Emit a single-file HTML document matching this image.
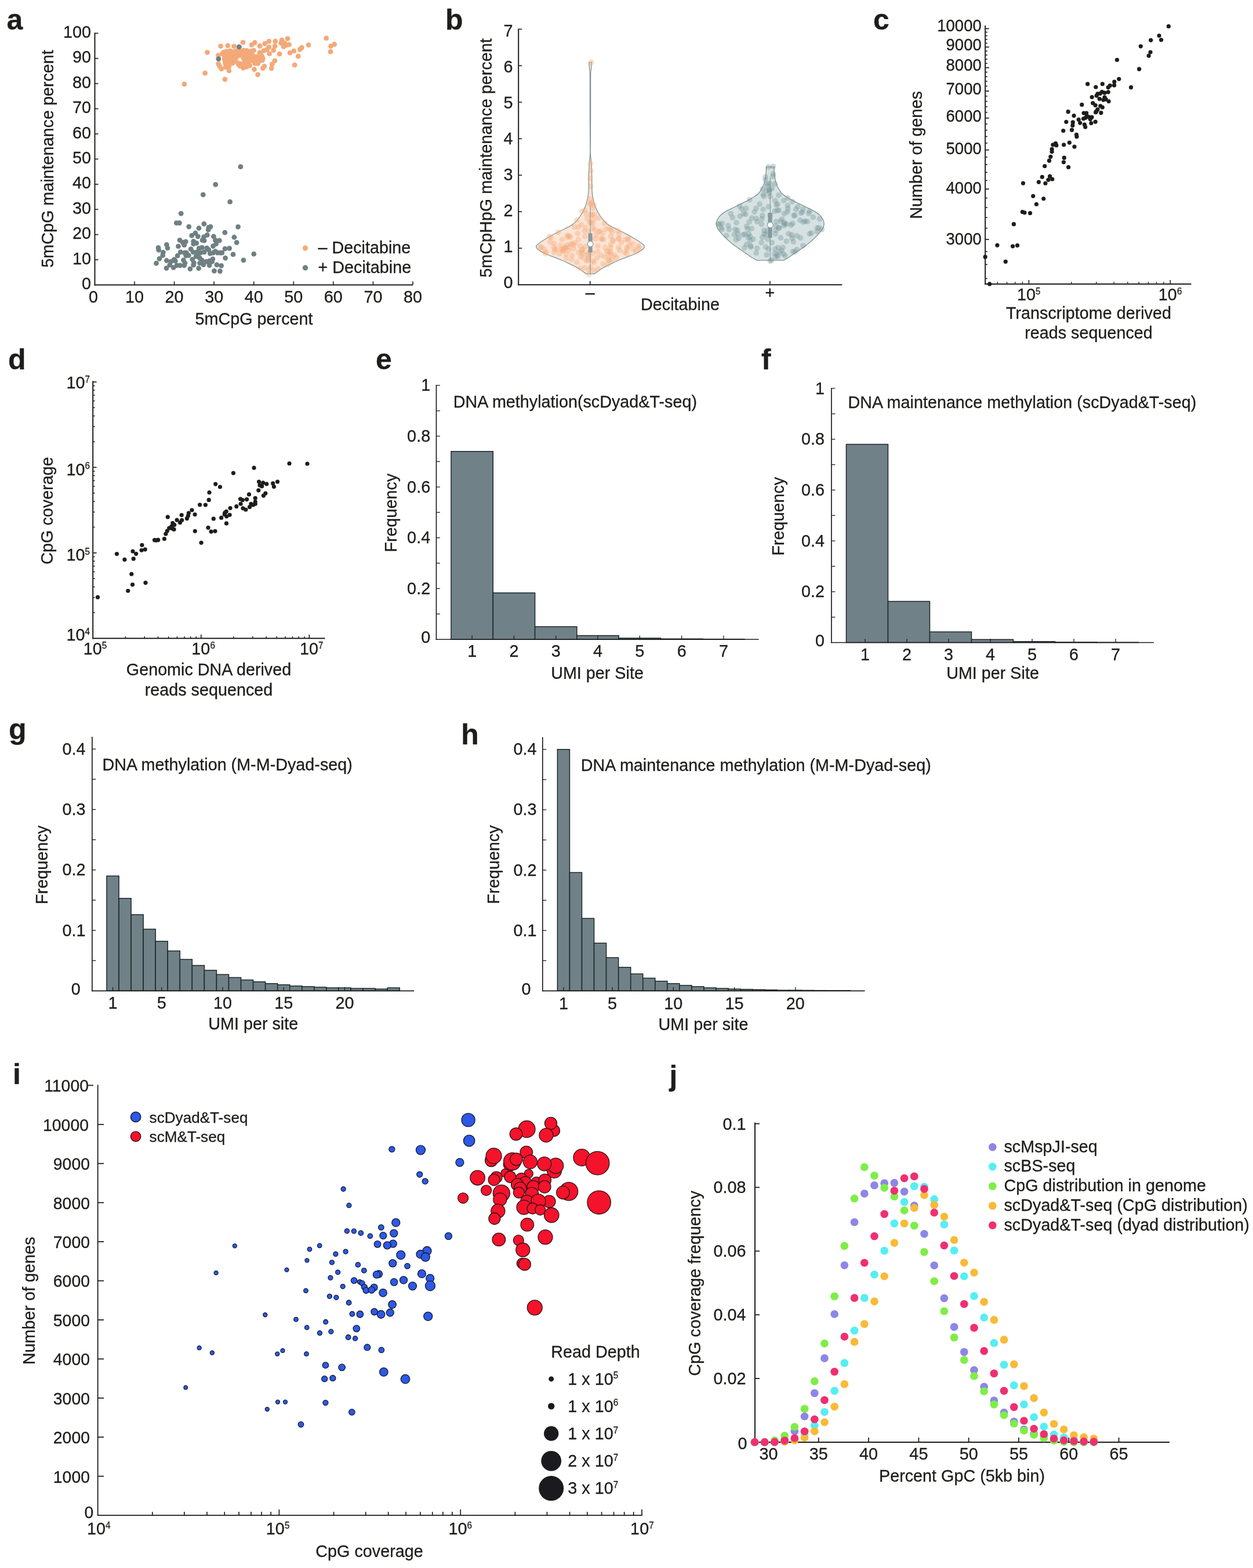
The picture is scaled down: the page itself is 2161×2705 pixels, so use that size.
<!DOCTYPE html>
<html lang="en">
<head>
<meta charset="utf-8">
<title>Figure: scDyad&amp;T-seq quality metrics</title>
<style>
html,body{margin:0;padding:0;background:#fff;}
body{width:2161px;height:2705px;overflow:hidden;}
svg{display:block;font-family:'Liberation Sans', sans-serif;fill:#1d1d1b;}
svg text{white-space:pre;stroke:#1d1d1b;stroke-width:0.3px;stroke-linejoin:round;}
</style>
</head>
<body>
<svg width="2161" height="2705" viewBox="0 0 2161 2705">
<rect x="0" y="0" width="2161" height="2705" fill="#ffffff"/>
<g id="panel-a">
<text font-size="50" transform="translate(11.5 51.3)" font-weight="bold">a</text>
<line x1="163.5" y1="56.4" x2="163.5" y2="492.5" stroke="#1d1d1b" stroke-width="2" stroke-linecap="butt"/>
<line x1="162.5" y1="491.5" x2="712" y2="491.5" stroke="#1d1d1b" stroke-width="2" stroke-linecap="butt"/>
<text font-size="30.2" text-anchor="end" transform="translate(157 499.1) scale(0.955 1)">0</text>
<line x1="163.5" y1="448.09" x2="169.5" y2="448.09" stroke="#1d1d1b" stroke-width="1.6" stroke-linecap="butt"/>
<text font-size="30.2" text-anchor="end" transform="translate(157 455.69) scale(0.955 1)">10</text>
<line x1="163.5" y1="404.68" x2="169.5" y2="404.68" stroke="#1d1d1b" stroke-width="1.6" stroke-linecap="butt"/>
<text font-size="30.2" text-anchor="end" transform="translate(157 412.28) scale(0.955 1)">20</text>
<line x1="163.5" y1="361.27" x2="169.5" y2="361.27" stroke="#1d1d1b" stroke-width="1.6" stroke-linecap="butt"/>
<text font-size="30.2" text-anchor="end" transform="translate(157 368.87) scale(0.955 1)">30</text>
<line x1="163.5" y1="317.86" x2="169.5" y2="317.86" stroke="#1d1d1b" stroke-width="1.6" stroke-linecap="butt"/>
<text font-size="30.2" text-anchor="end" transform="translate(157 325.46) scale(0.955 1)">40</text>
<line x1="163.5" y1="274.45" x2="169.5" y2="274.45" stroke="#1d1d1b" stroke-width="1.6" stroke-linecap="butt"/>
<text font-size="30.2" text-anchor="end" transform="translate(157 282.05) scale(0.955 1)">50</text>
<line x1="163.5" y1="231.04" x2="169.5" y2="231.04" stroke="#1d1d1b" stroke-width="1.6" stroke-linecap="butt"/>
<text font-size="30.2" text-anchor="end" transform="translate(157 238.64) scale(0.955 1)">60</text>
<line x1="163.5" y1="187.63" x2="169.5" y2="187.63" stroke="#1d1d1b" stroke-width="1.6" stroke-linecap="butt"/>
<text font-size="30.2" text-anchor="end" transform="translate(157 195.23) scale(0.955 1)">70</text>
<line x1="163.5" y1="144.22" x2="169.5" y2="144.22" stroke="#1d1d1b" stroke-width="1.6" stroke-linecap="butt"/>
<text font-size="30.2" text-anchor="end" transform="translate(157 151.82) scale(0.955 1)">80</text>
<line x1="163.5" y1="100.81" x2="169.5" y2="100.81" stroke="#1d1d1b" stroke-width="1.6" stroke-linecap="butt"/>
<text font-size="30.2" text-anchor="end" transform="translate(157 108.41) scale(0.955 1)">90</text>
<line x1="163.5" y1="57.4" x2="169.5" y2="57.4" stroke="#1d1d1b" stroke-width="1.6" stroke-linecap="butt"/>
<text font-size="30.2" text-anchor="end" transform="translate(157 65) scale(0.955 1)">100</text>
<text font-size="30.2" text-anchor="middle" transform="translate(161.1 521.8) scale(0.955 1)">0</text>
<line x1="232.06" y1="491.5" x2="232.06" y2="485.5" stroke="#1d1d1b" stroke-width="1.6" stroke-linecap="butt"/>
<text font-size="30.2" text-anchor="middle" transform="translate(232.06 521.8) scale(0.955 1)">10</text>
<line x1="300.62" y1="491.5" x2="300.62" y2="485.5" stroke="#1d1d1b" stroke-width="1.6" stroke-linecap="butt"/>
<text font-size="30.2" text-anchor="middle" transform="translate(300.62 521.8) scale(0.955 1)">20</text>
<line x1="369.19" y1="491.5" x2="369.19" y2="485.5" stroke="#1d1d1b" stroke-width="1.6" stroke-linecap="butt"/>
<text font-size="30.2" text-anchor="middle" transform="translate(369.19 521.8) scale(0.955 1)">30</text>
<line x1="437.75" y1="491.5" x2="437.75" y2="485.5" stroke="#1d1d1b" stroke-width="1.6" stroke-linecap="butt"/>
<text font-size="30.2" text-anchor="middle" transform="translate(437.75 521.8) scale(0.955 1)">40</text>
<line x1="506.31" y1="491.5" x2="506.31" y2="485.5" stroke="#1d1d1b" stroke-width="1.6" stroke-linecap="butt"/>
<text font-size="30.2" text-anchor="middle" transform="translate(506.31 521.8) scale(0.955 1)">50</text>
<line x1="574.88" y1="491.5" x2="574.88" y2="485.5" stroke="#1d1d1b" stroke-width="1.6" stroke-linecap="butt"/>
<text font-size="30.2" text-anchor="middle" transform="translate(574.88 521.8) scale(0.955 1)">60</text>
<line x1="643.44" y1="491.5" x2="643.44" y2="485.5" stroke="#1d1d1b" stroke-width="1.6" stroke-linecap="butt"/>
<text font-size="30.2" text-anchor="middle" transform="translate(643.44 521.8) scale(0.955 1)">70</text>
<line x1="712" y1="491.5" x2="712" y2="485.5" stroke="#1d1d1b" stroke-width="1.6" stroke-linecap="butt"/>
<text font-size="30.2" text-anchor="middle" transform="translate(712 521.8) scale(0.955 1)">80</text>
<text font-size="29.2" text-anchor="middle" transform="translate(438 559.5) scale(0.985 1)">5mCpG percent</text>
<text font-size="29.2" text-anchor="middle" transform="translate(92 274) rotate(-90) scale(0.985 1)">5mCpG maintenance percent</text>
<g fill="#f4a978">
<circle cx="317.94" cy="145.12" r="4.4"/>
<circle cx="353.66" cy="126.13" r="4.4"/>
<circle cx="387.98" cy="136.93" r="4.4"/>
<circle cx="357.49" cy="90.42" r="4.4"/>
<circle cx="394.95" cy="121.95" r="4.4"/>
<circle cx="444.6" cy="128.75" r="4.4"/>
<circle cx="508.19" cy="112.2" r="4.4"/>
<circle cx="514.29" cy="97.04" r="4.4"/>
<circle cx="482.06" cy="93.03" r="4.4"/>
<circle cx="500" cy="91.11" r="4.4"/>
<circle cx="506.79" cy="87.8" r="4.4"/>
<circle cx="517.25" cy="85.37" r="4.4"/>
<circle cx="520.38" cy="82.23" r="4.4"/>
<circle cx="532.06" cy="77.7" r="4.4"/>
<circle cx="562.72" cy="65.85" r="4.4"/>
<circle cx="576.66" cy="76.48" r="4.4"/>
<circle cx="570.56" cy="79.62" r="4.4"/>
<circle cx="570.03" cy="89.2" r="4.4"/>
<circle cx="495.99" cy="66.55" r="4.4"/>
<circle cx="486.06" cy="69.16" r="4.4"/>
<circle cx="474.74" cy="71.25" r="4.4"/>
<circle cx="463.76" cy="71.25" r="4.4"/>
<circle cx="456.79" cy="75.26" r="4.4"/>
<circle cx="439.37" cy="73.52" r="4.4"/>
<circle cx="434.15" cy="77.35" r="4.4"/>
<circle cx="418.99" cy="73.17" r="4.4"/>
<circle cx="403.66" cy="79.97" r="4.4"/>
<circle cx="392.86" cy="78.75" r="4.4"/>
<circle cx="380.66" cy="79.62" r="4.4"/>
<circle cx="448.08" cy="79.27" r="4.4"/>
<circle cx="447.74" cy="90.94" r="4.4"/>
<circle cx="498.61" cy="77" r="4.4"/>
<circle cx="493.38" cy="77.87" r="4.4"/>
<circle cx="489.02" cy="80.49" r="4.4"/>
<circle cx="484.67" cy="74.39" r="4.4"/>
<circle cx="490.77" cy="74.39" r="4.4"/>
<circle cx="474.22" cy="79.62" r="4.4"/>
<circle cx="471.6" cy="86.59" r="4.4"/>
<circle cx="463.76" cy="81.36" r="4.4"/>
<circle cx="460.28" cy="85.71" r="4.4"/>
<circle cx="464.63" cy="92.68" r="4.4"/>
<circle cx="455.05" cy="87.46" r="4.4"/>
<circle cx="473.87" cy="104.88" r="4.4"/>
<circle cx="469.34" cy="110.98" r="4.4"/>
<circle cx="468.12" cy="117.94" r="4.4"/>
<circle cx="455.92" cy="114.46" r="4.4"/>
<circle cx="453.31" cy="117.6" r="4.4"/>
<circle cx="438.5" cy="119.69" r="4.4"/>
<circle cx="429.79" cy="111.85" r="4.4"/>
<circle cx="425.44" cy="115.33" r="4.4"/>
<circle cx="419.34" cy="117.07" r="4.4"/>
<circle cx="411.5" cy="110.98" r="4.4"/>
<circle cx="394.95" cy="114.46" r="4.4"/>
<circle cx="388.85" cy="115.85" r="4.4"/>
<circle cx="381.88" cy="118.82" r="4.4"/>
<circle cx="378.4" cy="113.59" r="4.4"/>
<circle cx="376.66" cy="110.1" r="4.4"/>
<circle cx="376.66" cy="95.64" r="4.4"/>
<circle cx="385.37" cy="90.42" r="4.4"/>
<circle cx="390.59" cy="88.68" r="4.4"/>
<circle cx="396.69" cy="87.98" r="4.4"/>
<circle cx="402.79" cy="89.2" r="4.4"/>
<circle cx="408.89" cy="87.46" r="4.4"/>
<circle cx="414.11" cy="87.98" r="4.4"/>
<circle cx="420.21" cy="86.93" r="4.4"/>
<circle cx="425.44" cy="87.46" r="4.4"/>
<circle cx="432.4" cy="88.33" r="4.4"/>
<circle cx="437.63" cy="86.93" r="4.4"/>
<circle cx="383.62" cy="92.68" r="4.4"/>
<circle cx="388.85" cy="93.55" r="4.4"/>
<circle cx="394.08" cy="91.81" r="4.4"/>
<circle cx="399.3" cy="92.68" r="4.4"/>
<circle cx="404.53" cy="91.81" r="4.4"/>
<circle cx="410.63" cy="92.68" r="4.4"/>
<circle cx="415.85" cy="91.81" r="4.4"/>
<circle cx="421.95" cy="91.46" r="4.4"/>
<circle cx="428.05" cy="91.81" r="4.4"/>
<circle cx="434.15" cy="91.81" r="4.4"/>
<circle cx="448.95" cy="91.81" r="4.4"/>
<circle cx="387.11" cy="97.04" r="4.4"/>
<circle cx="392.33" cy="96.17" r="4.4"/>
<circle cx="397.56" cy="96.69" r="4.4"/>
<circle cx="402.79" cy="96.17" r="4.4"/>
<circle cx="408.01" cy="97.04" r="4.4"/>
<circle cx="413.24" cy="95.64" r="4.4"/>
<circle cx="418.47" cy="96.17" r="4.4"/>
<circle cx="423.69" cy="95.64" r="4.4"/>
<circle cx="429.79" cy="96.69" r="4.4"/>
<circle cx="437.63" cy="97.04" r="4.4"/>
<circle cx="442.86" cy="97.91" r="4.4"/>
<circle cx="451.57" cy="96.69" r="4.4"/>
<circle cx="387.11" cy="101.39" r="4.4"/>
<circle cx="391.46" cy="100.52" r="4.4"/>
<circle cx="396.69" cy="100.87" r="4.4"/>
<circle cx="401.92" cy="100.52" r="4.4"/>
<circle cx="407.14" cy="99.65" r="4.4"/>
<circle cx="420.21" cy="100.52" r="4.4"/>
<circle cx="425.44" cy="100.17" r="4.4"/>
<circle cx="432.4" cy="99.65" r="4.4"/>
<circle cx="439.37" cy="100.52" r="4.4"/>
<circle cx="446.34" cy="101.39" r="4.4"/>
<circle cx="453.31" cy="100.52" r="4.4"/>
<circle cx="387.98" cy="105.4" r="4.4"/>
<circle cx="393.21" cy="104.88" r="4.4"/>
<circle cx="398.43" cy="105.4" r="4.4"/>
<circle cx="404.53" cy="104.36" r="4.4"/>
<circle cx="421.95" cy="104.88" r="4.4"/>
<circle cx="427.18" cy="104.36" r="4.4"/>
<circle cx="435.02" cy="104.01" r="4.4"/>
<circle cx="441.11" cy="105.4" r="4.4"/>
<circle cx="448.08" cy="104.88" r="4.4"/>
<circle cx="452.44" cy="104.01" r="4.4"/>
<circle cx="388.85" cy="109.58" r="4.4"/>
<circle cx="394.95" cy="109.23" r="4.4"/>
<circle cx="401.05" cy="108.89" r="4.4"/>
<circle cx="409.76" cy="108.36" r="4.4"/>
<circle cx="414.98" cy="110.1" r="4.4"/>
<circle cx="421.95" cy="109.23" r="4.4"/>
<circle cx="428.92" cy="108.36" r="4.4"/>
<circle cx="439.37" cy="109.23" r="4.4"/>
<circle cx="444.6" cy="109.58" r="4.4"/>
<circle cx="390.59" cy="113.59" r="4.4"/>
<circle cx="395.82" cy="110.98" r="4.4"/>
<circle cx="413.24" cy="113.59" r="4.4"/>
<circle cx="420.21" cy="113.07" r="4.4"/>
<circle cx="425.44" cy="110.98" r="4.4"/>
<circle cx="430.66" cy="113.07" r="4.4"/>
<circle cx="526.5" cy="428" r="4.7"/>
</g>
<g fill="#6f8083">
<circle cx="412.37" cy="80.84" r="4.4"/>
<circle cx="376.83" cy="101.57" r="4.4"/>
<circle cx="414.94" cy="287.63" r="4.4"/>
<circle cx="371.75" cy="318.29" r="4.4"/>
<circle cx="350.29" cy="335.8" r="4.4"/>
<circle cx="396.67" cy="348.19" r="4.4"/>
<circle cx="312.22" cy="368.37" r="4.4"/>
<circle cx="304.3" cy="384.73" r="4.4"/>
<circle cx="309.41" cy="384.73" r="4.4"/>
<circle cx="325.76" cy="391.11" r="4.4"/>
<circle cx="343.01" cy="393.67" r="4.4"/>
<circle cx="351.82" cy="386.26" r="4.4"/>
<circle cx="359.87" cy="392.39" r="4.4"/>
<circle cx="363.07" cy="391.11" r="4.4"/>
<circle cx="359.23" cy="396.48" r="4.4"/>
<circle cx="410.59" cy="391.37" r="4.4"/>
<circle cx="387.85" cy="401.21" r="4.4"/>
<circle cx="403.95" cy="409.26" r="4.4"/>
<circle cx="408.16" cy="418.46" r="4.4"/>
<circle cx="437.8" cy="438.13" r="4.4"/>
<circle cx="419.92" cy="448.86" r="4.4"/>
<circle cx="402.03" cy="438.9" r="4.4"/>
<circle cx="388.62" cy="445.03" r="4.4"/>
<circle cx="395.64" cy="428.42" r="4.4"/>
<circle cx="387.98" cy="429.06" r="4.4"/>
<circle cx="382.87" cy="436.09" r="4.4"/>
<circle cx="378.4" cy="415.01" r="4.4"/>
<circle cx="368.43" cy="407.98" r="4.4"/>
<circle cx="371.37" cy="414.37" r="4.4"/>
<circle cx="372.65" cy="420.75" r="4.4"/>
<circle cx="367.54" cy="424.59" r="4.4"/>
<circle cx="357.32" cy="405.42" r="4.4"/>
<circle cx="351.57" cy="408.62" r="4.4"/>
<circle cx="349.01" cy="414.37" r="4.4"/>
<circle cx="352.21" cy="415.01" r="4.4"/>
<circle cx="341.35" cy="407.98" r="4.4"/>
<circle cx="336.88" cy="402.23" r="4.4"/>
<circle cx="330.74" cy="406.32" r="4.4"/>
<circle cx="333.68" cy="416.28" r="4.4"/>
<circle cx="333.68" cy="420.75" r="4.4"/>
<circle cx="338.79" cy="419.48" r="4.4"/>
<circle cx="320.27" cy="416.92" r="4.4"/>
<circle cx="315.16" cy="418.2" r="4.4"/>
<circle cx="310.05" cy="414.37" r="4.4"/>
<circle cx="317.71" cy="422.67" r="4.4"/>
<circle cx="307.49" cy="424.84" r="4.4"/>
<circle cx="287.43" cy="422.03" r="4.4"/>
<circle cx="288.97" cy="427.78" r="4.4"/>
<circle cx="273" cy="427.4" r="4.4"/>
<circle cx="273.64" cy="431.23" r="4.4"/>
<circle cx="281.3" cy="435.45" r="4.4"/>
<circle cx="280.66" cy="440.56" r="4.4"/>
<circle cx="274.91" cy="446.31" r="4.4"/>
<circle cx="269.55" cy="454.23" r="4.4"/>
<circle cx="287.43" cy="449.5" r="4.4"/>
<circle cx="287.05" cy="462.66" r="4.4"/>
<circle cx="299.19" cy="461.64" r="4.4"/>
<circle cx="292.8" cy="457.17" r="4.4"/>
<circle cx="294.72" cy="451.42" r="4.4"/>
<circle cx="300.46" cy="447.58" r="4.4"/>
<circle cx="302.38" cy="450.14" r="4.4"/>
<circle cx="306.21" cy="441.2" r="4.4"/>
<circle cx="311.32" cy="434.81" r="4.4"/>
<circle cx="318.35" cy="436.09" r="4.4"/>
<circle cx="320.91" cy="441.2" r="4.4"/>
<circle cx="325.38" cy="440.56" r="4.4"/>
<circle cx="316.43" cy="448.86" r="4.4"/>
<circle cx="318.99" cy="453.97" r="4.4"/>
<circle cx="317.71" cy="457.8" r="4.4"/>
<circle cx="310.69" cy="457.8" r="4.4"/>
<circle cx="304.94" cy="457.8" r="4.4"/>
<circle cx="327.93" cy="463.94" r="4.4"/>
<circle cx="342.62" cy="462.92" r="4.4"/>
<circle cx="369.45" cy="467.39" r="4.4"/>
<circle cx="379.42" cy="467.77" r="4.4"/>
<circle cx="381.59" cy="458.44" r="4.4"/>
<circle cx="373.93" cy="456.78" r="4.4"/>
<circle cx="361.15" cy="457.55" r="4.4"/>
<circle cx="350.93" cy="456.53" r="4.4"/>
<circle cx="344.54" cy="453.97" r="4.4"/>
<circle cx="334.32" cy="453.33" r="4.4"/>
<circle cx="333.68" cy="457.17" r="4.4"/>
<circle cx="331.77" cy="447.58" r="4.4"/>
<circle cx="329.21" cy="429.7" r="4.4"/>
<circle cx="333.04" cy="434.81" r="4.4"/>
<circle cx="343.26" cy="428.42" r="4.4"/>
<circle cx="348.37" cy="427.14" r="4.4"/>
<circle cx="356.68" cy="427.78" r="4.4"/>
<circle cx="359.87" cy="430.98" r="4.4"/>
<circle cx="352.21" cy="434.81" r="4.4"/>
<circle cx="345.82" cy="436.09" r="4.4"/>
<circle cx="340.71" cy="439.92" r="4.4"/>
<circle cx="338.15" cy="442.47" r="4.4"/>
<circle cx="344.54" cy="445.03" r="4.4"/>
<circle cx="348.37" cy="448.86" r="4.4"/>
<circle cx="356.04" cy="451.42" r="4.4"/>
<circle cx="361.15" cy="450.14" r="4.4"/>
<circle cx="365.62" cy="451.42" r="4.4"/>
<circle cx="366.9" cy="446.95" r="4.4"/>
<circle cx="362.43" cy="437.36" r="4.4"/>
<circle cx="367.54" cy="436.09" r="4.4"/>
<circle cx="371.37" cy="433.53" r="4.4"/>
<circle cx="375.2" cy="436.09" r="4.4"/>
<circle cx="380.31" cy="436.09" r="4.4"/>
<circle cx="339.43" cy="434.81" r="4.4"/>
<circle cx="321.54" cy="436.09" r="4.4"/>
<circle cx="526.5" cy="462" r="4.7"/>
</g>
<text font-size="29.2" transform="translate(548.5 436.6) scale(0.985 1)">– Decitabine</text>
<text font-size="29.2" transform="translate(548.5 470.6) scale(0.985 1)">+ Decitabine</text>
</g>
<g id="panel-b">
<text font-size="50" transform="translate(768 51)" font-weight="bold">b</text>
<line x1="894.2" y1="49.4" x2="894.2" y2="492.2" stroke="#1d1d1b" stroke-width="2" stroke-linecap="butt"/>
<line x1="893.2" y1="491.2" x2="1452.3" y2="491.2" stroke="#1d1d1b" stroke-width="2" stroke-linecap="butt"/>
<text font-size="30.2" text-anchor="end" transform="translate(884.6 497) scale(0.955 1)">0</text>
<line x1="894.2" y1="428.23" x2="900.2" y2="428.23" stroke="#1d1d1b" stroke-width="1.6" stroke-linecap="butt"/>
<text font-size="30.2" text-anchor="end" transform="translate(884.6 435.05) scale(0.955 1)">1</text>
<line x1="894.2" y1="365.26" x2="900.2" y2="365.26" stroke="#1d1d1b" stroke-width="1.6" stroke-linecap="butt"/>
<text font-size="30.2" text-anchor="end" transform="translate(884.6 373.1) scale(0.955 1)">2</text>
<line x1="894.2" y1="302.29" x2="900.2" y2="302.29" stroke="#1d1d1b" stroke-width="1.6" stroke-linecap="butt"/>
<text font-size="30.2" text-anchor="end" transform="translate(884.6 311.15) scale(0.955 1)">3</text>
<line x1="894.2" y1="239.31" x2="900.2" y2="239.31" stroke="#1d1d1b" stroke-width="1.6" stroke-linecap="butt"/>
<text font-size="30.2" text-anchor="end" transform="translate(884.6 249.2) scale(0.955 1)">4</text>
<line x1="894.2" y1="176.34" x2="900.2" y2="176.34" stroke="#1d1d1b" stroke-width="1.6" stroke-linecap="butt"/>
<text font-size="30.2" text-anchor="end" transform="translate(884.6 187.25) scale(0.955 1)">5</text>
<line x1="894.2" y1="113.37" x2="900.2" y2="113.37" stroke="#1d1d1b" stroke-width="1.6" stroke-linecap="butt"/>
<text font-size="30.2" text-anchor="end" transform="translate(884.6 125.3) scale(0.955 1)">6</text>
<line x1="894.2" y1="50.4" x2="900.2" y2="50.4" stroke="#1d1d1b" stroke-width="1.6" stroke-linecap="butt"/>
<text font-size="30.2" text-anchor="end" transform="translate(884.6 63.35) scale(0.955 1)">7</text>
<line x1="1017.7" y1="491.2" x2="1017.7" y2="484.7" stroke="#1d1d1b" stroke-width="1.6" stroke-linecap="butt"/>
<text font-size="30.2" text-anchor="middle" transform="translate(1017.7 514.5) scale(0.955 1)">–</text>
<line x1="1327.9" y1="491.2" x2="1327.9" y2="484.7" stroke="#1d1d1b" stroke-width="1.6" stroke-linecap="butt"/>
<text font-size="30.2" text-anchor="middle" transform="translate(1327.9 514.5) scale(0.955 1)">+</text>
<path d="M1020.1 107.4C1020.08 108.33 1020.18 110.23 1020 113C1019.82 115.77 1019.23 120.33 1019 124C1018.77 127.67 1018.67 122.33 1018.6 135C1018.53 147.67 1018.67 179.17 1018.6 200C1018.53 220.83 1018.09 247.68 1018.19 260C1018.28 272.32 1018.84 269.29 1019.16 273.94C1019.49 278.58 1019.88 283.23 1020.14 287.87C1020.39 292.52 1020.58 297.17 1020.7 301.81C1020.81 306.46 1020.79 311.57 1020.84 315.75C1020.88 319.93 1020.79 323.18 1020.98 326.9C1021.16 330.62 1021.32 334.1 1021.95 338.05C1022.58 342 1023.58 346.64 1024.74 350.59C1025.9 354.54 1027.29 358.26 1028.92 361.74C1030.55 365.23 1032.52 368.48 1034.49 371.5C1036.47 374.52 1038.56 377.31 1040.77 379.86C1042.97 382.42 1044.95 384.74 1047.74 386.83C1050.52 388.92 1054.24 390.66 1057.49 392.4C1060.74 394.15 1063.53 395.42 1067.25 397.28C1070.96 399.14 1075.61 401.35 1079.79 403.55C1083.97 405.76 1088.39 408.2 1092.33 410.52C1096.28 412.85 1100.58 415.52 1103.48 417.49C1106.39 419.47 1108.41 421.07 1109.76 422.37C1111.1 423.67 1111.68 424.11 1111.57 425.3C1111.45 426.48 1110.64 427.97 1109.06 429.48C1107.48 430.99 1104.88 432.73 1102.09 434.36C1099.3 435.98 1095.82 437.72 1092.33 439.23C1088.85 440.74 1085.37 441.79 1081.18 443.41C1077 445.04 1071.66 447.13 1067.25 448.99C1062.83 450.85 1058.65 452.71 1054.7 454.56C1050.75 456.42 1046.81 458.4 1043.55 460.14C1040.3 461.88 1037.51 463.51 1035.19 465.02C1032.87 466.53 1031.13 468.04 1029.62 469.2C1028.11 470.36 1026.83 471.45 1026.13 471.99C1025.44 472.52 1025.55 472.33 1025.44 472.4L1010.66 472.4C1010.55 472.33 1010.66 472.52 1009.97 471.99C1009.27 471.45 1007.99 470.36 1006.48 469.2C1004.97 468.04 1003.23 466.53 1000.91 465.02C998.58 463.51 995.8 461.88 992.54 460.14C989.29 458.4 985.34 456.42 981.39 454.56C977.44 452.71 973.26 450.85 968.85 448.99C964.44 447.13 959.09 445.04 954.91 443.41C950.73 441.79 947.25 440.74 943.76 439.23C940.28 437.72 936.79 435.98 934.01 434.36C931.22 432.73 928.62 430.99 927.04 429.48C925.46 427.97 924.65 426.48 924.53 425.3C924.41 424.11 924.99 423.67 926.34 422.37C927.69 421.07 929.71 419.47 932.61 417.49C935.52 415.52 939.81 412.85 943.76 410.52C947.71 408.2 952.13 405.76 956.31 403.55C960.49 401.35 965.13 399.14 968.85 397.28C972.57 395.42 975.35 394.15 978.61 392.4C981.86 390.66 985.57 388.92 988.36 386.83C991.15 384.74 993.12 382.42 995.33 379.86C997.54 377.31 999.63 374.52 1001.6 371.5C1003.58 368.48 1005.55 365.23 1007.18 361.74C1008.8 358.26 1010.2 354.54 1011.36 350.59C1012.52 346.64 1013.52 342 1014.15 338.05C1014.77 334.1 1014.94 330.62 1015.12 326.9C1015.31 323.18 1015.21 319.93 1015.26 315.75C1015.31 311.57 1015.28 306.46 1015.4 301.81C1015.52 297.17 1015.7 292.52 1015.96 287.87C1016.21 283.23 1016.61 278.58 1016.93 273.94C1017.26 269.29 1017.82 272.32 1017.91 260C1018 247.68 1017.57 220.83 1017.5 200C1017.43 179.17 1017.56 147.67 1017.5 135C1017.43 122.33 1017.33 127.67 1017.1 124C1016.86 120.33 1016.28 115.77 1016.1 113C1015.91 110.23 1016.01 108.33 1016 107.4Z" fill="#f4a978" fill-opacity="0.3" stroke="#7f9194" stroke-width="1.3" stroke-linejoin="round"/>
<g fill="#f4a978" fill-opacity="0.36">
<circle cx="1018.47" cy="282.3" r="4.9"/>
<circle cx="1019.16" cy="294.15" r="4.9"/>
<circle cx="1017.77" cy="307.39" r="4.9"/>
<circle cx="1019.16" cy="321.32" r="4.9"/>
<circle cx="1017.77" cy="343.62" r="4.9"/>
<circle cx="1018.47" cy="351.99" r="4.9"/>
<circle cx="1022.65" cy="358.95" r="4.9"/>
<circle cx="1003.14" cy="364.53" r="4.9"/>
<circle cx="1011.5" cy="368.71" r="4.9"/>
<circle cx="1021.25" cy="370.1" r="4.9"/>
<circle cx="1012.89" cy="377.07" r="4.9"/>
<circle cx="1024.04" cy="378.47" r="4.9"/>
<circle cx="994.77" cy="379.86" r="4.9"/>
<circle cx="1032.4" cy="375.68" r="4.9"/>
<circle cx="1022.65" cy="385.44" r="4.9"/>
<circle cx="1010.1" cy="392.4" r="4.9"/>
<circle cx="1025.44" cy="396.59" r="4.9"/>
<circle cx="996.17" cy="402.86" r="4.9"/>
<circle cx="1008.71" cy="407.74" r="4.9"/>
<circle cx="1032.4" cy="399.37" r="4.9"/>
<circle cx="1039.37" cy="402.16" r="4.9"/>
<circle cx="1053.31" cy="396.59" r="4.9"/>
<circle cx="1065.85" cy="397.98" r="4.9"/>
<circle cx="1053.31" cy="407.74" r="4.9"/>
<circle cx="1040.77" cy="413.31" r="4.9"/>
<circle cx="1067.25" cy="411.92" r="4.9"/>
<circle cx="1078.4" cy="413.31" r="4.9"/>
<circle cx="1090.94" cy="420.28" r="4.9"/>
<circle cx="1100.7" cy="424.46" r="4.9"/>
<circle cx="1067.25" cy="426.97" r="4.9"/>
<circle cx="1068.64" cy="432.13" r="4.9"/>
<circle cx="1053.31" cy="421.67" r="4.9"/>
<circle cx="1043.55" cy="426.97" r="4.9"/>
<circle cx="1031.01" cy="424.46" r="4.9"/>
<circle cx="1036.59" cy="440.63" r="4.9"/>
<circle cx="1049.13" cy="439.51" r="4.9"/>
<circle cx="1060.28" cy="440.63" r="4.9"/>
<circle cx="1063.07" cy="444.81" r="4.9"/>
<circle cx="1077" cy="435.33" r="4.9"/>
<circle cx="1022.65" cy="436.45" r="4.9"/>
<circle cx="1022.65" cy="450.1" r="4.9"/>
<circle cx="1011.5" cy="450.1" r="4.9"/>
<circle cx="994.77" cy="452.2" r="4.9"/>
<circle cx="986.41" cy="440.63" r="4.9"/>
<circle cx="997.56" cy="435.33" r="4.9"/>
<circle cx="1000.35" cy="424.46" r="4.9"/>
<circle cx="983.62" cy="421.67" r="4.9"/>
<circle cx="986.41" cy="420.28" r="4.9"/>
<circle cx="978.05" cy="406.34" r="4.9"/>
<circle cx="962.72" cy="400.77" r="4.9"/>
<circle cx="947.39" cy="407.74" r="4.9"/>
<circle cx="948.78" cy="417.49" r="4.9"/>
<circle cx="955.75" cy="420.28" r="4.9"/>
<circle cx="966.9" cy="423.07" r="4.9"/>
<circle cx="959.93" cy="430.03" r="4.9"/>
<circle cx="939.02" cy="430.03" r="4.9"/>
<circle cx="932.06" cy="426.97" r="4.9"/>
<circle cx="940.42" cy="437.42" r="4.9"/>
<circle cx="955.75" cy="435.33" r="4.9"/>
<circle cx="969.69" cy="433.24" r="4.9"/>
<circle cx="980.84" cy="432.13" r="4.9"/>
<circle cx="991.99" cy="418.89" r="4.9"/>
<circle cx="997.56" cy="413.31" r="4.9"/>
<circle cx="1004.53" cy="437.42" r="4.9"/>
<circle cx="1015.68" cy="473.24" r="4.9"/>
<circle cx="1050.52" cy="448.99" r="4.9"/>
<circle cx="1026.83" cy="411.92" r="4.9"/>
<circle cx="1005.92" cy="430.03" r="4.9"/>
<circle cx="975.26" cy="426.97" r="4.9"/>
<circle cx="1081.18" cy="426.97" r="4.9"/>
<circle cx="1092.33" cy="430.03" r="4.9"/>
<circle cx="1102.09" cy="427.94" r="4.9"/>
<circle cx="1031.01" cy="434.22" r="4.9"/>
<circle cx="989.2" cy="429.06" r="4.9"/>
<circle cx="969.69" cy="413.31" r="4.9"/>
<circle cx="1057.49" cy="416.1" r="4.9"/>
<circle cx="1046.34" cy="433.24" r="4.9"/>
<circle cx="1085.37" cy="423.07" r="4.9"/>
<circle cx="1015.68" cy="441.6" r="4.9"/>
<circle cx="1005.92" cy="444.81" r="4.9"/>
<circle cx="1029.62" cy="444.81" r="4.9"/>
<circle cx="979.44" cy="409.2" r="4.9"/>
<circle cx="1031.5" cy="463.74" r="4.9"/>
<circle cx="1028.32" cy="405.29" r="4.9"/>
<circle cx="979.95" cy="426.83" r="4.9"/>
<circle cx="1015.36" cy="465.17" r="4.9"/>
<circle cx="1017.48" cy="383.76" r="4.9"/>
<circle cx="1053.1" cy="426.95" r="4.9"/>
<circle cx="1020.6" cy="349.82" r="4.9"/>
<circle cx="1017.53" cy="351.46" r="4.9"/>
<circle cx="1002.67" cy="387.81" r="4.9"/>
<circle cx="1008.84" cy="425.47" r="4.9"/>
<circle cx="1081.95" cy="429.84" r="4.9"/>
<circle cx="957.05" cy="430.13" r="4.9"/>
<circle cx="1024.29" cy="354.22" r="4.9"/>
<circle cx="1007.88" cy="398.63" r="4.9"/>
<circle cx="954.79" cy="426.53" r="4.9"/>
<circle cx="950.3" cy="409.94" r="4.9"/>
<circle cx="997.46" cy="391.76" r="4.9"/>
<circle cx="1071.7" cy="418.61" r="4.9"/>
<circle cx="1014.83" cy="436.02" r="4.9"/>
<circle cx="1034.62" cy="399.27" r="4.9"/>
<circle cx="1053.79" cy="439.47" r="4.9"/>
<circle cx="1044.61" cy="395.44" r="4.9"/>
<circle cx="964.92" cy="437.67" r="4.9"/>
<circle cx="1054.99" cy="448.18" r="4.9"/>
<circle cx="983.65" cy="408.95" r="4.9"/>
<circle cx="1012.09" cy="439.56" r="4.9"/>
<circle cx="1081.1" cy="437.47" r="4.9"/>
<circle cx="1015.33" cy="399.1" r="4.9"/>
<circle cx="1022.96" cy="393.66" r="4.9"/>
<circle cx="975" cy="427.34" r="4.9"/>
<circle cx="1052.9" cy="434.82" r="4.9"/>
<circle cx="968.66" cy="429.64" r="4.9"/>
<circle cx="1019.74" cy="370.99" r="4.9"/>
<circle cx="1007.96" cy="462.07" r="4.9"/>
<circle cx="990.54" cy="391.74" r="4.9"/>
<circle cx="1043.13" cy="442.9" r="4.9"/>
<circle cx="1055.8" cy="400" r="4.9"/>
<circle cx="989.45" cy="422.32" r="4.9"/>
<circle cx="976.63" cy="445.64" r="4.9"/>
<circle cx="1018.05" cy="384.62" r="4.9"/>
<circle cx="1049.17" cy="448.55" r="4.9"/>
<circle cx="1019.04" cy="412.04" r="4.9"/>
<circle cx="1037.93" cy="411.19" r="4.9"/>
<circle cx="1024.45" cy="466.83" r="4.9"/>
<circle cx="1066.74" cy="412.16" r="4.9"/>
<circle cx="1050.14" cy="433.29" r="4.9"/>
<circle cx="1037.24" cy="412.48" r="4.9"/>
<circle cx="1097.02" cy="433.59" r="4.9"/>
<circle cx="1014.16" cy="449.14" r="4.9"/>
<circle cx="1024.56" cy="452.54" r="4.9"/>
<circle cx="1040.09" cy="455.15" r="4.9"/>
<circle cx="971.84" cy="431.11" r="4.9"/>
<circle cx="941.89" cy="435.07" r="4.9"/>
<circle cx="1056.96" cy="414.09" r="4.9"/>
<circle cx="1083.68" cy="413.68" r="4.9"/>
<circle cx="1082.9" cy="412.06" r="4.9"/>
<circle cx="1067.88" cy="403.77" r="4.9"/>
<circle cx="1025.09" cy="370.05" r="4.9"/>
<circle cx="1014.95" cy="445.68" r="4.9"/>
<circle cx="976.45" cy="438.08" r="4.9"/>
<circle cx="1003.08" cy="431.25" r="4.9"/>
<circle cx="1018.21" cy="460.61" r="4.9"/>
<circle cx="977.32" cy="422.35" r="4.9"/>
<circle cx="933.57" cy="426.01" r="4.9"/>
<circle cx="1051.06" cy="392.94" r="4.9"/>
<circle cx="1008.68" cy="362.39" r="4.9"/>
<circle cx="971.59" cy="429.98" r="4.9"/>
<circle cx="981.62" cy="406.71" r="4.9"/>
<circle cx="1042.45" cy="384.97" r="4.9"/>
<circle cx="1000.07" cy="462.96" r="4.9"/>
<circle cx="985.66" cy="447.44" r="4.9"/>
<circle cx="1048.18" cy="456.17" r="4.9"/>
<circle cx="1001.15" cy="443.02" r="4.9"/>
<circle cx="1003.66" cy="434.81" r="4.9"/>
</g>
<line x1="1018.05" y1="355.47" x2="1018.05" y2="472.4" stroke="#7d9497" stroke-width="1.1" stroke-linecap="butt"/>
<rect x="1014.56" y="402.44" width="6.97" height="33.17" fill="#86999c"/>
<circle cx="1018.05" cy="420.98" r="5" fill="#ffffff" stroke="#86999c" stroke-width="1.2"/>
<circle cx="1019.6" cy="107.8" r="5" fill="#f4a978" fill-opacity="0.4"/>
<path d="M1335.13 287.93C1335.18 289.57 1335.18 294.35 1335.44 297.75C1335.69 301.14 1335.94 304.79 1336.64 308.32C1337.35 311.84 1338.53 315.87 1339.66 318.89C1340.8 321.9 1341.93 323.92 1343.44 326.43C1344.95 328.95 1346.46 331.72 1348.72 333.98C1350.99 336.25 1353.88 338.01 1357.03 340.02C1360.17 342.04 1363.82 344.05 1367.6 346.06C1371.37 348.08 1375.65 350.09 1379.67 352.1C1383.7 354.12 1387.73 356.13 1391.75 358.14C1395.78 360.15 1400.31 362.17 1403.83 364.18C1407.36 366.19 1410.38 367.96 1412.89 370.22C1415.41 372.49 1417.55 375.25 1418.93 377.77C1420.32 380.29 1421.07 382.8 1421.2 385.32C1421.32 387.84 1420.82 390.35 1419.69 392.87C1418.55 395.39 1416.54 397.78 1414.4 400.42C1412.26 403.06 1409.87 405.7 1406.85 408.72C1403.83 411.74 1400.06 415.39 1396.28 418.54C1392.51 421.68 1388.23 424.7 1384.2 427.6C1380.18 430.49 1376.15 433.13 1372.13 435.9C1368.1 438.67 1363.44 442.02 1360.05 444.2C1356.65 446.39 1353.13 448.23 1351.74 449.04L1304.94 449.04C1303.55 448.23 1300.03 446.39 1296.63 444.2C1293.23 442.02 1288.58 438.67 1284.55 435.9C1280.53 433.13 1276.5 430.49 1272.47 427.6C1268.45 424.7 1264.17 421.68 1260.39 418.54C1256.62 415.39 1252.85 411.74 1249.83 408.72C1246.81 405.7 1244.42 403.06 1242.28 400.42C1240.14 397.78 1238.12 395.39 1236.99 392.87C1235.86 390.35 1235.36 387.84 1235.48 385.32C1235.61 382.8 1236.36 380.29 1237.75 377.77C1239.13 375.25 1241.27 372.49 1243.79 370.22C1246.3 367.96 1249.32 366.19 1252.85 364.18C1256.37 362.17 1260.9 360.15 1264.92 358.14C1268.95 356.13 1272.98 354.12 1277 352.1C1281.03 350.09 1285.31 348.08 1289.08 346.06C1292.86 344.05 1296.51 342.04 1299.65 340.02C1302.8 338.01 1305.69 336.25 1307.96 333.98C1310.22 331.72 1311.73 328.95 1313.24 326.43C1314.75 323.92 1315.88 321.9 1317.02 318.89C1318.15 315.87 1319.33 311.84 1320.03 308.32C1320.74 304.79 1320.99 301.14 1321.24 297.75C1321.49 294.35 1321.49 289.57 1321.54 287.93Z" fill="#8fb0b0" fill-opacity="0.37" stroke="#7f9194" stroke-width="1.3" stroke-linejoin="round"/>
<g fill="#6f8f93" fill-opacity="0.34">
<circle cx="1325.32" cy="287.93" r="4.9"/>
<circle cx="1333.62" cy="287.18" r="4.9"/>
<circle cx="1320.03" cy="305.3" r="4.9"/>
<circle cx="1323.81" cy="317.38" r="4.9"/>
<circle cx="1336.64" cy="317.38" r="4.9"/>
<circle cx="1331.36" cy="324.92" r="4.9"/>
<circle cx="1326.83" cy="328.7" r="4.9"/>
<circle cx="1316.26" cy="335.49" r="4.9"/>
<circle cx="1292.86" cy="344.55" r="4.9"/>
<circle cx="1310.22" cy="352.1" r="4.9"/>
<circle cx="1336.64" cy="346.06" r="4.9"/>
<circle cx="1351.74" cy="346.06" r="4.9"/>
<circle cx="1358.54" cy="341.53" r="4.9"/>
<circle cx="1358.54" cy="354.37" r="4.9"/>
<circle cx="1304.18" cy="359.65" r="4.9"/>
<circle cx="1279.27" cy="360.41" r="4.9"/>
<circle cx="1316.26" cy="361.16" r="4.9"/>
<circle cx="1325.32" cy="356.63" r="4.9"/>
<circle cx="1338.91" cy="353.61" r="4.9"/>
<circle cx="1343.44" cy="362.67" r="4.9"/>
<circle cx="1335.89" cy="364.18" r="4.9"/>
<circle cx="1375.9" cy="356.63" r="4.9"/>
<circle cx="1396.28" cy="364.18" r="4.9"/>
<circle cx="1369.11" cy="371.73" r="4.9"/>
<circle cx="1352.5" cy="368.71" r="4.9"/>
<circle cx="1260.39" cy="368.71" r="4.9"/>
<circle cx="1282.29" cy="368.71" r="4.9"/>
<circle cx="1286.06" cy="369.47" r="4.9"/>
<circle cx="1263.41" cy="375.51" r="4.9"/>
<circle cx="1296.63" cy="376.26" r="4.9"/>
<circle cx="1304.18" cy="377.02" r="4.9"/>
<circle cx="1314.75" cy="371.73" r="4.9"/>
<circle cx="1314" cy="377.77" r="4.9"/>
<circle cx="1305.69" cy="382.3" r="4.9"/>
<circle cx="1292.1" cy="383.05" r="4.9"/>
<circle cx="1287.57" cy="390.6" r="4.9"/>
<circle cx="1296.63" cy="394.38" r="4.9"/>
<circle cx="1313.24" cy="386.83" r="4.9"/>
<circle cx="1338.91" cy="382.3" r="4.9"/>
<circle cx="1338.15" cy="389.85" r="4.9"/>
<circle cx="1343.44" cy="392.87" r="4.9"/>
<circle cx="1352.5" cy="383.81" r="4.9"/>
<circle cx="1357.03" cy="386.83" r="4.9"/>
<circle cx="1364.58" cy="388.34" r="4.9"/>
<circle cx="1366.84" cy="385.32" r="4.9"/>
<circle cx="1385.71" cy="383.05" r="4.9"/>
<circle cx="1392.51" cy="382.3" r="4.9"/>
<circle cx="1402.32" cy="374.75" r="4.9"/>
<circle cx="1413.65" cy="377.77" r="4.9"/>
<circle cx="1412.14" cy="392.87" r="4.9"/>
<circle cx="1417.42" cy="395.89" r="4.9"/>
<circle cx="1245.3" cy="385.32" r="4.9"/>
<circle cx="1238.5" cy="386.07" r="4.9"/>
<circle cx="1243.79" cy="392.87" r="4.9"/>
<circle cx="1245.3" cy="395.89" r="4.9"/>
<circle cx="1257.38" cy="395.89" r="4.9"/>
<circle cx="1267.94" cy="395.89" r="4.9"/>
<circle cx="1266.43" cy="404.95" r="4.9"/>
<circle cx="1272.47" cy="403.44" r="4.9"/>
<circle cx="1281.53" cy="404.95" r="4.9"/>
<circle cx="1273.98" cy="410.99" r="4.9"/>
<circle cx="1252.85" cy="406.46" r="4.9"/>
<circle cx="1293.61" cy="407.97" r="4.9"/>
<circle cx="1293.61" cy="415.52" r="4.9"/>
<circle cx="1317.77" cy="397.4" r="4.9"/>
<circle cx="1317.77" cy="403.44" r="4.9"/>
<circle cx="1314.75" cy="409.48" r="4.9"/>
<circle cx="1323.81" cy="412.5" r="4.9"/>
<circle cx="1337.4" cy="403.44" r="4.9"/>
<circle cx="1346.46" cy="410.23" r="4.9"/>
<circle cx="1360.05" cy="403.44" r="4.9"/>
<circle cx="1366.09" cy="410.99" r="4.9"/>
<circle cx="1356.27" cy="416.27" r="4.9"/>
<circle cx="1368.35" cy="417.03" r="4.9"/>
<circle cx="1380.43" cy="410.23" r="4.9"/>
<circle cx="1396.28" cy="403.44" r="4.9"/>
<circle cx="1399.3" cy="401.93" r="4.9"/>
<circle cx="1384.96" cy="423.82" r="4.9"/>
<circle cx="1374.39" cy="430.62" r="4.9"/>
<circle cx="1350.23" cy="426.84" r="4.9"/>
<circle cx="1347.97" cy="432.13" r="4.9"/>
<circle cx="1331.36" cy="418.54" r="4.9"/>
<circle cx="1313.24" cy="418.54" r="4.9"/>
<circle cx="1287.57" cy="421.56" r="4.9"/>
<circle cx="1283.8" cy="427.6" r="4.9"/>
<circle cx="1295.12" cy="426.09" r="4.9"/>
<circle cx="1305.69" cy="428.35" r="4.9"/>
<circle cx="1304.18" cy="436.66" r="4.9"/>
<circle cx="1320.79" cy="426.09" r="4.9"/>
<circle cx="1325.32" cy="429.86" r="4.9"/>
<circle cx="1322.3" cy="439.67" r="4.9"/>
<circle cx="1335.89" cy="437.41" r="4.9"/>
<circle cx="1340.42" cy="439.67" r="4.9"/>
<circle cx="1350.99" cy="438.16" r="4.9"/>
<circle cx="1354.01" cy="441.18" r="4.9"/>
<circle cx="1328.34" cy="450.24" r="4.9"/>
<circle cx="1337.4" cy="397.4" r="4.9"/>
<circle cx="1384.92" cy="360.81" r="4.9"/>
<circle cx="1340.72" cy="362.95" r="4.9"/>
<circle cx="1255.87" cy="389.41" r="4.9"/>
<circle cx="1342.92" cy="336.81" r="4.9"/>
<circle cx="1409.35" cy="399.65" r="4.9"/>
<circle cx="1241.31" cy="387.1" r="4.9"/>
<circle cx="1276.16" cy="373.06" r="4.9"/>
<circle cx="1327.26" cy="326.91" r="4.9"/>
<circle cx="1328.3" cy="371.57" r="4.9"/>
<circle cx="1289.56" cy="394.66" r="4.9"/>
<circle cx="1317.33" cy="338.72" r="4.9"/>
<circle cx="1294.51" cy="424.44" r="4.9"/>
<circle cx="1370.93" cy="434.58" r="4.9"/>
<circle cx="1341.16" cy="351.96" r="4.9"/>
<circle cx="1269.45" cy="413.35" r="4.9"/>
<circle cx="1290.42" cy="410.06" r="4.9"/>
<circle cx="1332.85" cy="304.21" r="4.9"/>
<circle cx="1358.55" cy="360.01" r="4.9"/>
<circle cx="1298.89" cy="412.42" r="4.9"/>
<circle cx="1346.38" cy="381.81" r="4.9"/>
<circle cx="1366.43" cy="347.82" r="4.9"/>
<circle cx="1383.81" cy="365.86" r="4.9"/>
<circle cx="1275.72" cy="355.83" r="4.9"/>
<circle cx="1341.6" cy="443.02" r="4.9"/>
<circle cx="1270.12" cy="384.03" r="4.9"/>
<circle cx="1284.7" cy="403.98" r="4.9"/>
<circle cx="1348.45" cy="378.05" r="4.9"/>
<circle cx="1322.84" cy="320.79" r="4.9"/>
<circle cx="1286.51" cy="359.74" r="4.9"/>
<circle cx="1343.2" cy="393.77" r="4.9"/>
<circle cx="1319.98" cy="310.54" r="4.9"/>
<circle cx="1337.16" cy="443.04" r="4.9"/>
<circle cx="1301.06" cy="365.62" r="4.9"/>
<circle cx="1330.45" cy="448.93" r="4.9"/>
<circle cx="1374.06" cy="406.68" r="4.9"/>
<circle cx="1344.36" cy="435.34" r="4.9"/>
<circle cx="1342.06" cy="427.04" r="4.9"/>
<circle cx="1353.41" cy="386.02" r="4.9"/>
<circle cx="1365.58" cy="405.25" r="4.9"/>
<circle cx="1388.55" cy="381.53" r="4.9"/>
<circle cx="1358.1" cy="365.42" r="4.9"/>
<circle cx="1394.64" cy="368.04" r="4.9"/>
<circle cx="1321.78" cy="329.15" r="4.9"/>
<circle cx="1271.72" cy="397.18" r="4.9"/>
<circle cx="1336.84" cy="429.75" r="4.9"/>
<circle cx="1328.15" cy="338.92" r="4.9"/>
<circle cx="1326.49" cy="332.53" r="4.9"/>
<circle cx="1381.28" cy="367.5" r="4.9"/>
<circle cx="1333.66" cy="299.96" r="4.9"/>
<circle cx="1379.93" cy="379.86" r="4.9"/>
<circle cx="1372.82" cy="361.21" r="4.9"/>
<circle cx="1315.18" cy="326.18" r="4.9"/>
<circle cx="1351.55" cy="389.3" r="4.9"/>
<circle cx="1409.22" cy="393.46" r="4.9"/>
<circle cx="1324.11" cy="398.21" r="4.9"/>
<circle cx="1327.76" cy="316.72" r="4.9"/>
<circle cx="1291.36" cy="402.99" r="4.9"/>
<circle cx="1370.98" cy="371.77" r="4.9"/>
<circle cx="1367.49" cy="433.93" r="4.9"/>
<circle cx="1320.9" cy="404.31" r="4.9"/>
</g>
<line x1="1328.34" y1="306.81" x2="1328.34" y2="449.04" stroke="#7d9497" stroke-width="1.1" stroke-linecap="butt"/>
<rect x="1324.56" y="367.2" width="7.1" height="43.03" fill="#86999c"/>
<circle cx="1328.34" cy="388.04" r="5" fill="#ffffff" stroke="#86999c" stroke-width="1.2"/>
<text font-size="29.2" text-anchor="middle" transform="translate(1173 535.3) scale(0.985 1)">Decitabine</text>
<text font-size="29.2" text-anchor="middle" transform="translate(847.6 272.5) rotate(-90) scale(0.985 1)">5mCpHpG maintenance percent</text>
</g>
<g id="panel-c">
<text font-size="50" transform="translate(1506 51)" font-weight="bold">c</text>
<g fill="#1d1d1b">
<circle cx="2015.42" cy="45.45" r="3.6"/>
<circle cx="1999.09" cy="61.56" r="3.6"/>
<circle cx="2002.62" cy="68.84" r="3.6"/>
<circle cx="1984.75" cy="69.28" r="3.6"/>
<circle cx="1967.32" cy="79.87" r="3.6"/>
<circle cx="1984.09" cy="90.02" r="3.6"/>
<circle cx="1981.22" cy="96.2" r="3.6"/>
<circle cx="1926.49" cy="103.26" r="3.6"/>
<circle cx="1964.67" cy="119.15" r="3.6"/>
<circle cx="1929.8" cy="136.36" r="3.6"/>
<circle cx="1921.86" cy="141" r="3.6"/>
<circle cx="1921.64" cy="147.18" r="3.6"/>
<circle cx="1914.36" cy="147.62" r="3.6"/>
<circle cx="1911.27" cy="150.71" r="3.6"/>
<circle cx="1950.55" cy="150.71" r="3.6"/>
<circle cx="1901.34" cy="144.97" r="3.6"/>
<circle cx="1889.86" cy="150.27" r="3.6"/>
<circle cx="1875.74" cy="144.97" r="3.6"/>
<circle cx="1911.27" cy="158.87" r="3.6"/>
<circle cx="1905.09" cy="160.2" r="3.6"/>
<circle cx="1900.67" cy="158.65" r="3.6"/>
<circle cx="1897.36" cy="161.3" r="3.6"/>
<circle cx="1892.95" cy="161.74" r="3.6"/>
<circle cx="1891.18" cy="165.05" r="3.6"/>
<circle cx="1883.24" cy="167.48" r="3.6"/>
<circle cx="1905.09" cy="167.92" r="3.6"/>
<circle cx="1896.26" cy="170.57" r="3.6"/>
<circle cx="1902.88" cy="172.33" r="3.6"/>
<circle cx="1907.29" cy="171.23" r="3.6"/>
<circle cx="1912.15" cy="174.76" r="3.6"/>
<circle cx="1884.79" cy="177.85" r="3.6"/>
<circle cx="1889.2" cy="181.6" r="3.6"/>
<circle cx="1865.81" cy="180.72" r="3.6"/>
<circle cx="1897.8" cy="182.93" r="3.6"/>
<circle cx="1901.34" cy="185.13" r="3.6"/>
<circle cx="1892.95" cy="188.89" r="3.6"/>
<circle cx="1890.74" cy="192.2" r="3.6"/>
<circle cx="1889.64" cy="193.74" r="3.6"/>
<circle cx="1898.91" cy="194.62" r="3.6"/>
<circle cx="1842.2" cy="192.64" r="3.6"/>
<circle cx="1852.13" cy="199.48" r="3.6"/>
<circle cx="1869.12" cy="195.06" r="3.6"/>
<circle cx="1873.75" cy="195.06" r="3.6"/>
<circle cx="1874.19" cy="199.92" r="3.6"/>
<circle cx="1877.5" cy="201.68" r="3.6"/>
<circle cx="1883.02" cy="202.13" r="3.6"/>
<circle cx="1871.99" cy="203.23" r="3.6"/>
<circle cx="1868.68" cy="204.77" r="3.6"/>
<circle cx="1880.37" cy="205.44" r="3.6"/>
<circle cx="1860.29" cy="206.32" r="3.6"/>
<circle cx="1838.89" cy="210.29" r="3.6"/>
<circle cx="1850.36" cy="210.95" r="3.6"/>
<circle cx="1862.72" cy="212.06" r="3.6"/>
<circle cx="1881.92" cy="212.5" r="3.6"/>
<circle cx="1889.2" cy="210.07" r="3.6"/>
<circle cx="1849.92" cy="216.47" r="3.6"/>
<circle cx="1870.44" cy="214.92" r="3.6"/>
<circle cx="1871.77" cy="219.12" r="3.6"/>
<circle cx="1848.59" cy="224.19" r="3.6"/>
<circle cx="1833.81" cy="225.52" r="3.6"/>
<circle cx="1856.54" cy="232.36" r="3.6"/>
<circle cx="1856.98" cy="235.67" r="3.6"/>
<circle cx="1820.57" cy="247.36" r="3.6"/>
<circle cx="1815.93" cy="249.79" r="3.6"/>
<circle cx="1821.89" cy="250.67" r="3.6"/>
<circle cx="1834.69" cy="249.79" r="3.6"/>
<circle cx="1844.4" cy="246.04" r="3.6"/>
<circle cx="1853.01" cy="253.1" r="3.6"/>
<circle cx="1814.17" cy="257.29" r="3.6"/>
<circle cx="1814.17" cy="261.77" r="3.6"/>
<circle cx="1811.96" cy="270.37" r="3.6"/>
<circle cx="1809.54" cy="277.21" r="3.6"/>
<circle cx="1835.35" cy="272.14" r="3.6"/>
<circle cx="1834.47" cy="279.86" r="3.6"/>
<circle cx="1801.81" cy="286.48" r="3.6"/>
<circle cx="1842.64" cy="288.47" r="3.6"/>
<circle cx="1810.64" cy="304.13" r="3.6"/>
<circle cx="1797.4" cy="305.24" r="3.6"/>
<circle cx="1814.83" cy="308.99" r="3.6"/>
<circle cx="1807.99" cy="310.31" r="3.6"/>
<circle cx="1791.44" cy="314.07" r="3.6"/>
<circle cx="1802.92" cy="316.27" r="3.6"/>
<circle cx="1764.52" cy="316.05" r="3.6"/>
<circle cx="1781.73" cy="338.34" r="3.6"/>
<circle cx="1799.83" cy="342.75" r="3.6"/>
<circle cx="1787.47" cy="352.24" r="3.6"/>
<circle cx="1763.41" cy="365.48" r="3.6"/>
<circle cx="1766.95" cy="366.81" r="3.6"/>
<circle cx="1776.66" cy="367.69" r="3.6"/>
<circle cx="1748.41" cy="386.67" r="3.6"/>
<circle cx="1719.94" cy="423.08" r="3.6"/>
<circle cx="1746.64" cy="424.84" r="3.6"/>
<circle cx="1754.59" cy="423.3" r="3.6"/>
<circle cx="1699.2" cy="443.16" r="3.6"/>
<circle cx="1734.29" cy="451.32" r="3.6"/>
<circle cx="1706.7" cy="489.94" r="3.6"/>
</g>
<line x1="1699.2" y1="44" x2="1699.2" y2="491" stroke="#1d1d1b" stroke-width="2" stroke-linecap="butt"/>
<line x1="1698.2" y1="490" x2="2054.5" y2="490" stroke="#1d1d1b" stroke-width="2" stroke-linecap="butt"/>
<line x1="1699.2" y1="480.46" x2="1703" y2="480.46" stroke="#1d1d1b" stroke-width="1.5" stroke-linecap="butt"/>
<line x1="1699.2" y1="456.29" x2="1703" y2="456.29" stroke="#1d1d1b" stroke-width="1.5" stroke-linecap="butt"/>
<line x1="1699.2" y1="433.9" x2="1703" y2="433.9" stroke="#1d1d1b" stroke-width="1.5" stroke-linecap="butt"/>
<line x1="1699.2" y1="413.06" x2="1705.8" y2="413.06" stroke="#1d1d1b" stroke-width="1.7" stroke-linecap="butt"/>
<text font-size="28.84" text-anchor="end" transform="translate(1692.8 421.67) scale(0.955 1)">3000</text>
<line x1="1699.2" y1="393.57" x2="1703" y2="393.57" stroke="#1d1d1b" stroke-width="1.5" stroke-linecap="butt"/>
<line x1="1699.2" y1="375.26" x2="1703" y2="375.26" stroke="#1d1d1b" stroke-width="1.5" stroke-linecap="butt"/>
<line x1="1699.2" y1="357.99" x2="1703" y2="357.99" stroke="#1d1d1b" stroke-width="1.5" stroke-linecap="butt"/>
<line x1="1699.2" y1="341.66" x2="1703" y2="341.66" stroke="#1d1d1b" stroke-width="1.5" stroke-linecap="butt"/>
<line x1="1699.2" y1="326.17" x2="1705.8" y2="326.17" stroke="#1d1d1b" stroke-width="1.7" stroke-linecap="butt"/>
<text font-size="28.84" text-anchor="end" transform="translate(1692.8 333.91) scale(0.955 1)">4000</text>
<line x1="1699.2" y1="311.43" x2="1703" y2="311.43" stroke="#1d1d1b" stroke-width="1.5" stroke-linecap="butt"/>
<line x1="1699.2" y1="297.38" x2="1703" y2="297.38" stroke="#1d1d1b" stroke-width="1.5" stroke-linecap="butt"/>
<line x1="1699.2" y1="283.95" x2="1703" y2="283.95" stroke="#1d1d1b" stroke-width="1.5" stroke-linecap="butt"/>
<line x1="1699.2" y1="271.1" x2="1703" y2="271.1" stroke="#1d1d1b" stroke-width="1.5" stroke-linecap="butt"/>
<line x1="1699.2" y1="258.77" x2="1705.8" y2="258.77" stroke="#1d1d1b" stroke-width="1.7" stroke-linecap="butt"/>
<text font-size="28.84" text-anchor="end" transform="translate(1692.8 265.84) scale(0.955 1)">5000</text>
<line x1="1699.2" y1="246.92" x2="1703" y2="246.92" stroke="#1d1d1b" stroke-width="1.5" stroke-linecap="butt"/>
<line x1="1699.2" y1="235.52" x2="1703" y2="235.52" stroke="#1d1d1b" stroke-width="1.5" stroke-linecap="butt"/>
<line x1="1699.2" y1="224.54" x2="1703" y2="224.54" stroke="#1d1d1b" stroke-width="1.5" stroke-linecap="butt"/>
<line x1="1699.2" y1="213.94" x2="1703" y2="213.94" stroke="#1d1d1b" stroke-width="1.5" stroke-linecap="butt"/>
<line x1="1699.2" y1="203.7" x2="1705.8" y2="203.7" stroke="#1d1d1b" stroke-width="1.7" stroke-linecap="butt"/>
<text font-size="28.84" text-anchor="end" transform="translate(1692.8 210.22) scale(0.955 1)">6000</text>
<line x1="1699.2" y1="193.79" x2="1703" y2="193.79" stroke="#1d1d1b" stroke-width="1.5" stroke-linecap="butt"/>
<line x1="1699.2" y1="184.2" x2="1703" y2="184.2" stroke="#1d1d1b" stroke-width="1.5" stroke-linecap="butt"/>
<line x1="1699.2" y1="174.91" x2="1703" y2="174.91" stroke="#1d1d1b" stroke-width="1.5" stroke-linecap="butt"/>
<line x1="1699.2" y1="165.89" x2="1703" y2="165.89" stroke="#1d1d1b" stroke-width="1.5" stroke-linecap="butt"/>
<line x1="1699.2" y1="157.13" x2="1705.8" y2="157.13" stroke="#1d1d1b" stroke-width="1.7" stroke-linecap="butt"/>
<text font-size="28.84" text-anchor="end" transform="translate(1692.8 163.2) scale(0.955 1)">7000</text>
<line x1="1699.2" y1="148.63" x2="1703" y2="148.63" stroke="#1d1d1b" stroke-width="1.5" stroke-linecap="butt"/>
<line x1="1699.2" y1="140.35" x2="1703" y2="140.35" stroke="#1d1d1b" stroke-width="1.5" stroke-linecap="butt"/>
<line x1="1699.2" y1="132.29" x2="1703" y2="132.29" stroke="#1d1d1b" stroke-width="1.5" stroke-linecap="butt"/>
<line x1="1699.2" y1="124.45" x2="1703" y2="124.45" stroke="#1d1d1b" stroke-width="1.5" stroke-linecap="butt"/>
<line x1="1699.2" y1="116.8" x2="1705.8" y2="116.8" stroke="#1d1d1b" stroke-width="1.7" stroke-linecap="butt"/>
<text font-size="28.84" text-anchor="end" transform="translate(1692.8 122.47) scale(0.955 1)">8000</text>
<line x1="1699.2" y1="109.34" x2="1703" y2="109.34" stroke="#1d1d1b" stroke-width="1.5" stroke-linecap="butt"/>
<line x1="1699.2" y1="102.06" x2="1703" y2="102.06" stroke="#1d1d1b" stroke-width="1.5" stroke-linecap="butt"/>
<line x1="1699.2" y1="94.96" x2="1703" y2="94.96" stroke="#1d1d1b" stroke-width="1.5" stroke-linecap="butt"/>
<line x1="1699.2" y1="88.01" x2="1703" y2="88.01" stroke="#1d1d1b" stroke-width="1.5" stroke-linecap="butt"/>
<line x1="1699.2" y1="81.22" x2="1705.8" y2="81.22" stroke="#1d1d1b" stroke-width="1.7" stroke-linecap="butt"/>
<text font-size="28.84" text-anchor="end" transform="translate(1692.8 86.54) scale(0.955 1)">9000</text>
<line x1="1699.2" y1="74.59" x2="1703" y2="74.59" stroke="#1d1d1b" stroke-width="1.5" stroke-linecap="butt"/>
<line x1="1699.2" y1="68.09" x2="1703" y2="68.09" stroke="#1d1d1b" stroke-width="1.5" stroke-linecap="butt"/>
<line x1="1699.2" y1="61.73" x2="1703" y2="61.73" stroke="#1d1d1b" stroke-width="1.5" stroke-linecap="butt"/>
<line x1="1699.2" y1="55.5" x2="1703" y2="55.5" stroke="#1d1d1b" stroke-width="1.5" stroke-linecap="butt"/>
<line x1="1699.2" y1="49.4" x2="1705.8" y2="49.4" stroke="#1d1d1b" stroke-width="1.7" stroke-linecap="butt"/>
<text font-size="28.84" text-anchor="end" transform="translate(1692.8 54.4) scale(0.955 1)">10000</text>
<line x1="1720.29" y1="490" x2="1720.29" y2="486" stroke="#1d1d1b" stroke-width="1.3" stroke-linecap="butt"/>
<line x1="1736.62" y1="490" x2="1736.62" y2="486" stroke="#1d1d1b" stroke-width="1.3" stroke-linecap="butt"/>
<line x1="1750.76" y1="490" x2="1750.76" y2="486" stroke="#1d1d1b" stroke-width="1.3" stroke-linecap="butt"/>
<line x1="1763.24" y1="490" x2="1763.24" y2="486" stroke="#1d1d1b" stroke-width="1.3" stroke-linecap="butt"/>
<line x1="1774.4" y1="490" x2="1774.4" y2="483" stroke="#1d1d1b" stroke-width="1.6" stroke-linecap="butt"/>
<line x1="1847.82" y1="490" x2="1847.82" y2="486" stroke="#1d1d1b" stroke-width="1.3" stroke-linecap="butt"/>
<line x1="1890.77" y1="490" x2="1890.77" y2="486" stroke="#1d1d1b" stroke-width="1.3" stroke-linecap="butt"/>
<line x1="1921.24" y1="490" x2="1921.24" y2="486" stroke="#1d1d1b" stroke-width="1.3" stroke-linecap="butt"/>
<line x1="1944.88" y1="490" x2="1944.88" y2="486" stroke="#1d1d1b" stroke-width="1.3" stroke-linecap="butt"/>
<line x1="1964.19" y1="490" x2="1964.19" y2="486" stroke="#1d1d1b" stroke-width="1.3" stroke-linecap="butt"/>
<line x1="1980.52" y1="490" x2="1980.52" y2="486" stroke="#1d1d1b" stroke-width="1.3" stroke-linecap="butt"/>
<line x1="1994.66" y1="490" x2="1994.66" y2="486" stroke="#1d1d1b" stroke-width="1.3" stroke-linecap="butt"/>
<line x1="2007.14" y1="490" x2="2007.14" y2="486" stroke="#1d1d1b" stroke-width="1.3" stroke-linecap="butt"/>
<text font-size="30.2" transform="translate(1753.9 518) scale(0.955 1)">10<tspan dy="-10.27" font-size="16.01">5</tspan></text>
<line x1="2018.3" y1="490" x2="2018.3" y2="483" stroke="#1d1d1b" stroke-width="1.6" stroke-linecap="butt"/>
<text font-size="30.2" transform="translate(1997.8 518) scale(0.955 1)">10<tspan dy="-10.27" font-size="16.01">6</tspan></text>
<text font-size="29.2" text-anchor="middle" transform="translate(1877.5 549.5) scale(0.985 1)">Transcriptome derived</text>
<text font-size="29.2" text-anchor="middle" transform="translate(1877.5 584) scale(0.985 1)">reads sequenced</text>
<text font-size="29.2" text-anchor="middle" transform="translate(1590 267.5) rotate(-90) scale(0.985 1)">Number of genes</text>
</g>
<g id="panel-d">
<text font-size="50" transform="translate(14 637)" font-weight="bold">d</text>
<g fill="#1d1d1b">
<circle cx="499.02" cy="799.51" r="3.6"/>
<circle cx="530" cy="800" r="3.6"/>
<circle cx="438.05" cy="807.07" r="3.6"/>
<circle cx="402.44" cy="816.1" r="3.6"/>
<circle cx="371.71" cy="835.12" r="3.6"/>
<circle cx="379.51" cy="840" r="3.6"/>
<circle cx="360.98" cy="849.51" r="3.6"/>
<circle cx="360.24" cy="862.44" r="3.6"/>
<circle cx="344.63" cy="870.73" r="3.6"/>
<circle cx="354.39" cy="870.98" r="3.6"/>
<circle cx="330.98" cy="880" r="3.6"/>
<circle cx="336.1" cy="887.56" r="3.6"/>
<circle cx="325.37" cy="885.12" r="3.6"/>
<circle cx="324.39" cy="890" r="3.6"/>
<circle cx="322.44" cy="894.39" r="3.6"/>
<circle cx="313.17" cy="888.54" r="3.6"/>
<circle cx="313.66" cy="897.32" r="3.6"/>
<circle cx="310.49" cy="901.46" r="3.6"/>
<circle cx="305.12" cy="897.07" r="3.6"/>
<circle cx="289.27" cy="891.95" r="3.6"/>
<circle cx="297.8" cy="902.44" r="3.6"/>
<circle cx="300.73" cy="905.37" r="3.6"/>
<circle cx="295.61" cy="908.29" r="3.6"/>
<circle cx="291.71" cy="911.22" r="3.6"/>
<circle cx="296.83" cy="911.46" r="3.6"/>
<circle cx="300" cy="913.17" r="3.6"/>
<circle cx="288.29" cy="916.1" r="3.6"/>
<circle cx="285.85" cy="920.98" r="3.6"/>
<circle cx="283.41" cy="929.51" r="3.6"/>
<circle cx="266.59" cy="931.71" r="3.6"/>
<circle cx="269.51" cy="932.2" r="3.6"/>
<circle cx="272.68" cy="931.46" r="3.6"/>
<circle cx="244.88" cy="940.24" r="3.6"/>
<circle cx="244.15" cy="949.27" r="3.6"/>
<circle cx="250.24" cy="947.8" r="3.6"/>
<circle cx="229.02" cy="950.98" r="3.6"/>
<circle cx="234.63" cy="955.37" r="3.6"/>
<circle cx="230.24" cy="963.9" r="3.6"/>
<circle cx="201.46" cy="955.61" r="3.6"/>
<circle cx="214.88" cy="965.37" r="3.6"/>
<circle cx="226.83" cy="990.24" r="3.6"/>
<circle cx="228.54" cy="1008.54" r="3.6"/>
<circle cx="250.98" cy="1005.37" r="3.6"/>
<circle cx="220.73" cy="1019.27" r="3.6"/>
<circle cx="168.54" cy="1030.24" r="3.6"/>
<circle cx="446.59" cy="830.98" r="3.6"/>
<circle cx="453.66" cy="832.93" r="3.6"/>
<circle cx="459.76" cy="834.88" r="3.6"/>
<circle cx="470.73" cy="833.9" r="3.6"/>
<circle cx="478.54" cy="830.98" r="3.6"/>
<circle cx="472.44" cy="839.51" r="3.6"/>
<circle cx="448.05" cy="837.07" r="3.6"/>
<circle cx="451.71" cy="838.78" r="3.6"/>
<circle cx="445.85" cy="845.85" r="3.6"/>
<circle cx="457.8" cy="850.98" r="3.6"/>
<circle cx="454.39" cy="855.12" r="3.6"/>
<circle cx="429.51" cy="852.93" r="3.6"/>
<circle cx="440.24" cy="859.27" r="3.6"/>
<circle cx="414.63" cy="860.73" r="3.6"/>
<circle cx="418.29" cy="862.68" r="3.6"/>
<circle cx="425.61" cy="861.46" r="3.6"/>
<circle cx="415.12" cy="869.27" r="3.6"/>
<circle cx="440.24" cy="865.61" r="3.6"/>
<circle cx="440.24" cy="869.27" r="3.6"/>
<circle cx="432.93" cy="869.27" r="3.6"/>
<circle cx="436.59" cy="870.98" r="3.6"/>
<circle cx="430.49" cy="874.63" r="3.6"/>
<circle cx="419.02" cy="876.83" r="3.6"/>
<circle cx="423.9" cy="879.27" r="3.6"/>
<circle cx="407.8" cy="873.66" r="3.6"/>
<circle cx="397.07" cy="876.59" r="3.6"/>
<circle cx="390.24" cy="882.44" r="3.6"/>
<circle cx="387.8" cy="884.63" r="3.6"/>
<circle cx="387.32" cy="887.56" r="3.6"/>
<circle cx="390.73" cy="890.73" r="3.6"/>
<circle cx="396.1" cy="888.29" r="3.6"/>
<circle cx="381.71" cy="893.17" r="3.6"/>
<circle cx="368.29" cy="894.88" r="3.6"/>
<circle cx="390.49" cy="902.93" r="3.6"/>
<circle cx="359.02" cy="910.24" r="3.6"/>
<circle cx="364.15" cy="917.07" r="3.6"/>
<circle cx="370.98" cy="916.34" r="3.6"/>
<circle cx="336.34" cy="916.34" r="3.6"/>
<circle cx="347.07" cy="936.34" r="3.6"/>
</g>
<line x1="160.2" y1="657.3" x2="160.2" y2="1102.2" stroke="#1d1d1b" stroke-width="2" stroke-linecap="butt"/>
<line x1="159.2" y1="1101.2" x2="560.6" y2="1101.2" stroke="#1d1d1b" stroke-width="2" stroke-linecap="butt"/>
<line x1="160.2" y1="1056.81" x2="163.6" y2="1056.81" stroke="#1d1d1b" stroke-width="1.5" stroke-linecap="butt"/>
<line x1="160.2" y1="1030.85" x2="163.6" y2="1030.85" stroke="#1d1d1b" stroke-width="1.5" stroke-linecap="butt"/>
<line x1="160.2" y1="1012.43" x2="163.6" y2="1012.43" stroke="#1d1d1b" stroke-width="1.5" stroke-linecap="butt"/>
<line x1="160.2" y1="998.14" x2="163.6" y2="998.14" stroke="#1d1d1b" stroke-width="1.5" stroke-linecap="butt"/>
<line x1="160.2" y1="986.46" x2="163.6" y2="986.46" stroke="#1d1d1b" stroke-width="1.5" stroke-linecap="butt"/>
<line x1="160.2" y1="976.59" x2="163.6" y2="976.59" stroke="#1d1d1b" stroke-width="1.5" stroke-linecap="butt"/>
<line x1="160.2" y1="968.04" x2="163.6" y2="968.04" stroke="#1d1d1b" stroke-width="1.5" stroke-linecap="butt"/>
<line x1="160.2" y1="960.5" x2="163.6" y2="960.5" stroke="#1d1d1b" stroke-width="1.5" stroke-linecap="butt"/>
<text font-size="30.2" text-anchor="end" transform="translate(155 1105.3) scale(0.955 1)">10<tspan dy="-10.27" font-size="16.01">4</tspan></text>
<line x1="160.2" y1="953.75" x2="166.6" y2="953.75" stroke="#1d1d1b" stroke-width="1.7" stroke-linecap="butt"/>
<line x1="160.2" y1="909.36" x2="163.6" y2="909.36" stroke="#1d1d1b" stroke-width="1.5" stroke-linecap="butt"/>
<line x1="160.2" y1="883.4" x2="163.6" y2="883.4" stroke="#1d1d1b" stroke-width="1.5" stroke-linecap="butt"/>
<line x1="160.2" y1="864.98" x2="163.6" y2="864.98" stroke="#1d1d1b" stroke-width="1.5" stroke-linecap="butt"/>
<line x1="160.2" y1="850.69" x2="163.6" y2="850.69" stroke="#1d1d1b" stroke-width="1.5" stroke-linecap="butt"/>
<line x1="160.2" y1="839.01" x2="163.6" y2="839.01" stroke="#1d1d1b" stroke-width="1.5" stroke-linecap="butt"/>
<line x1="160.2" y1="829.14" x2="163.6" y2="829.14" stroke="#1d1d1b" stroke-width="1.5" stroke-linecap="butt"/>
<line x1="160.2" y1="820.59" x2="163.6" y2="820.59" stroke="#1d1d1b" stroke-width="1.5" stroke-linecap="butt"/>
<line x1="160.2" y1="813.05" x2="163.6" y2="813.05" stroke="#1d1d1b" stroke-width="1.5" stroke-linecap="butt"/>
<text font-size="30.2" text-anchor="end" transform="translate(155 967.05) scale(0.955 1)">10<tspan dy="-10.27" font-size="16.01">5</tspan></text>
<line x1="160.2" y1="806.3" x2="166.6" y2="806.3" stroke="#1d1d1b" stroke-width="1.7" stroke-linecap="butt"/>
<line x1="160.2" y1="761.91" x2="163.6" y2="761.91" stroke="#1d1d1b" stroke-width="1.5" stroke-linecap="butt"/>
<line x1="160.2" y1="735.95" x2="163.6" y2="735.95" stroke="#1d1d1b" stroke-width="1.5" stroke-linecap="butt"/>
<line x1="160.2" y1="717.53" x2="163.6" y2="717.53" stroke="#1d1d1b" stroke-width="1.5" stroke-linecap="butt"/>
<line x1="160.2" y1="703.24" x2="163.6" y2="703.24" stroke="#1d1d1b" stroke-width="1.5" stroke-linecap="butt"/>
<line x1="160.2" y1="691.56" x2="163.6" y2="691.56" stroke="#1d1d1b" stroke-width="1.5" stroke-linecap="butt"/>
<line x1="160.2" y1="681.69" x2="163.6" y2="681.69" stroke="#1d1d1b" stroke-width="1.5" stroke-linecap="butt"/>
<line x1="160.2" y1="673.14" x2="163.6" y2="673.14" stroke="#1d1d1b" stroke-width="1.5" stroke-linecap="butt"/>
<line x1="160.2" y1="665.6" x2="163.6" y2="665.6" stroke="#1d1d1b" stroke-width="1.5" stroke-linecap="butt"/>
<text font-size="30.2" text-anchor="end" transform="translate(155 819.7) scale(0.955 1)">10<tspan dy="-10.27" font-size="16.01">6</tspan></text>
<line x1="160.2" y1="658.85" x2="166.6" y2="658.85" stroke="#1d1d1b" stroke-width="1.7" stroke-linecap="butt"/>
<text font-size="30.2" text-anchor="end" transform="translate(155 670.35) scale(0.955 1)">10<tspan dy="-10.27" font-size="16.01">7</tspan></text>
<line x1="216.37" y1="1101.2" x2="216.37" y2="1097.8" stroke="#1d1d1b" stroke-width="1.5" stroke-linecap="butt"/>
<line x1="249.23" y1="1101.2" x2="249.23" y2="1097.8" stroke="#1d1d1b" stroke-width="1.5" stroke-linecap="butt"/>
<line x1="272.54" y1="1101.2" x2="272.54" y2="1097.8" stroke="#1d1d1b" stroke-width="1.5" stroke-linecap="butt"/>
<line x1="290.63" y1="1101.2" x2="290.63" y2="1097.8" stroke="#1d1d1b" stroke-width="1.5" stroke-linecap="butt"/>
<line x1="305.4" y1="1101.2" x2="305.4" y2="1097.8" stroke="#1d1d1b" stroke-width="1.5" stroke-linecap="butt"/>
<line x1="317.9" y1="1101.2" x2="317.9" y2="1097.8" stroke="#1d1d1b" stroke-width="1.5" stroke-linecap="butt"/>
<line x1="328.72" y1="1101.2" x2="328.72" y2="1097.8" stroke="#1d1d1b" stroke-width="1.5" stroke-linecap="butt"/>
<line x1="338.26" y1="1101.2" x2="338.26" y2="1097.8" stroke="#1d1d1b" stroke-width="1.5" stroke-linecap="butt"/>
<text font-size="30.2" transform="translate(143.7 1129.2) scale(0.955 1)">10<tspan dy="-10.27" font-size="16.01">5</tspan></text>
<line x1="346.8" y1="1101.2" x2="346.8" y2="1094.8" stroke="#1d1d1b" stroke-width="1.7" stroke-linecap="butt"/>
<line x1="402.97" y1="1101.2" x2="402.97" y2="1097.8" stroke="#1d1d1b" stroke-width="1.5" stroke-linecap="butt"/>
<line x1="435.83" y1="1101.2" x2="435.83" y2="1097.8" stroke="#1d1d1b" stroke-width="1.5" stroke-linecap="butt"/>
<line x1="459.14" y1="1101.2" x2="459.14" y2="1097.8" stroke="#1d1d1b" stroke-width="1.5" stroke-linecap="butt"/>
<line x1="477.23" y1="1101.2" x2="477.23" y2="1097.8" stroke="#1d1d1b" stroke-width="1.5" stroke-linecap="butt"/>
<line x1="492" y1="1101.2" x2="492" y2="1097.8" stroke="#1d1d1b" stroke-width="1.5" stroke-linecap="butt"/>
<line x1="504.5" y1="1101.2" x2="504.5" y2="1097.8" stroke="#1d1d1b" stroke-width="1.5" stroke-linecap="butt"/>
<line x1="515.32" y1="1101.2" x2="515.32" y2="1097.8" stroke="#1d1d1b" stroke-width="1.5" stroke-linecap="butt"/>
<line x1="524.86" y1="1101.2" x2="524.86" y2="1097.8" stroke="#1d1d1b" stroke-width="1.5" stroke-linecap="butt"/>
<text font-size="30.2" transform="translate(330.3 1129.2) scale(0.955 1)">10<tspan dy="-10.27" font-size="16.01">6</tspan></text>
<line x1="533.4" y1="1101.2" x2="533.4" y2="1094.8" stroke="#1d1d1b" stroke-width="1.7" stroke-linecap="butt"/>
<text font-size="30.2" transform="translate(516.9 1129.2) scale(0.955 1)">10<tspan dy="-10.27" font-size="16.01">7</tspan></text>
<text font-size="29.2" text-anchor="middle" transform="translate(360 1164.5) scale(0.985 1)">Genomic DNA derived</text>
<text font-size="29.2" text-anchor="middle" transform="translate(360 1199.5) scale(0.985 1)">reads sequenced</text>
<text font-size="29.2" text-anchor="middle" transform="translate(91.2 881) rotate(-90) scale(0.985 1)">CpG coverage</text>
</g>
<g id="panel-e">
<text font-size="50" transform="translate(648 637)" font-weight="bold">e</text>
<rect x="778" y="778.73" width="72.3" height="324.27" fill="#708287" stroke="#1c2629" stroke-width="1.5"/>
<rect x="850.3" y="1022.81" width="72.3" height="80.19" fill="#708287" stroke="#1c2629" stroke-width="1.5"/>
<rect x="922.6" y="1081.09" width="72.3" height="21.91" fill="#708287" stroke="#1c2629" stroke-width="1.5"/>
<rect x="994.9" y="1096.43" width="72.3" height="6.57" fill="#708287" stroke="#1c2629" stroke-width="1.5"/>
<rect x="1067.2" y="1100.81" width="72.3" height="2.19" fill="#708287" stroke="#1c2629" stroke-width="1.5"/>
<rect x="1139.5" y="1102.12" width="72.3" height="0.88" fill="#708287" stroke="#1c2629" stroke-width="1.5"/>
<rect x="1211.8" y="1102.56" width="72.3" height="0.44" fill="#708287" stroke="#1c2629" stroke-width="1.5"/>
<line x1="752.5" y1="663.95" x2="752.5" y2="1103.85" stroke="#1d1d1b" stroke-width="1.7" stroke-linecap="butt"/>
<line x1="751.65" y1="1103" x2="1308.6" y2="1103" stroke="#1d1d1b" stroke-width="1.7" stroke-linecap="butt"/>
<text font-size="30.2" text-anchor="end" transform="translate(742.2 1109.2) scale(0.955 1)">0</text>
<line x1="752.5" y1="1015.36" x2="758.9" y2="1015.36" stroke="#1d1d1b" stroke-width="1.3" stroke-linecap="butt"/>
<text font-size="30.2" text-anchor="end" transform="translate(742.2 1024.86) scale(0.955 1)">0.2</text>
<line x1="752.5" y1="927.72" x2="758.9" y2="927.72" stroke="#1d1d1b" stroke-width="1.3" stroke-linecap="butt"/>
<text font-size="30.2" text-anchor="end" transform="translate(742.2 937.22) scale(0.955 1)">0.4</text>
<line x1="752.5" y1="840.08" x2="758.9" y2="840.08" stroke="#1d1d1b" stroke-width="1.3" stroke-linecap="butt"/>
<text font-size="30.2" text-anchor="end" transform="translate(742.2 849.58) scale(0.955 1)">0.6</text>
<line x1="752.5" y1="752.44" x2="758.9" y2="752.44" stroke="#1d1d1b" stroke-width="1.3" stroke-linecap="butt"/>
<text font-size="30.2" text-anchor="end" transform="translate(742.2 761.94) scale(0.955 1)">0.8</text>
<line x1="752.5" y1="664.8" x2="758.9" y2="664.8" stroke="#1d1d1b" stroke-width="1.3" stroke-linecap="butt"/>
<text font-size="30.2" text-anchor="end" transform="translate(742.2 674.3) scale(0.955 1)">1</text>
<line x1="752.5" y1="1059.18" x2="758.9" y2="1059.18" stroke="#1d1d1b" stroke-width="1.3" stroke-linecap="butt"/>
<line x1="752.5" y1="971.54" x2="758.9" y2="971.54" stroke="#1d1d1b" stroke-width="1.3" stroke-linecap="butt"/>
<line x1="752.5" y1="883.9" x2="758.9" y2="883.9" stroke="#1d1d1b" stroke-width="1.3" stroke-linecap="butt"/>
<line x1="752.5" y1="796.26" x2="758.9" y2="796.26" stroke="#1d1d1b" stroke-width="1.3" stroke-linecap="butt"/>
<line x1="752.5" y1="708.62" x2="758.9" y2="708.62" stroke="#1d1d1b" stroke-width="1.3" stroke-linecap="butt"/>
<line x1="814.15" y1="1103" x2="814.15" y2="1096.6" stroke="#1d1d1b" stroke-width="1.3" stroke-linecap="butt"/>
<text font-size="30.2" text-anchor="middle" transform="translate(814.15 1133.3) scale(0.955 1)">1</text>
<line x1="886.45" y1="1103" x2="886.45" y2="1096.6" stroke="#1d1d1b" stroke-width="1.3" stroke-linecap="butt"/>
<text font-size="30.2" text-anchor="middle" transform="translate(886.45 1133.3) scale(0.955 1)">2</text>
<line x1="958.75" y1="1103" x2="958.75" y2="1096.6" stroke="#1d1d1b" stroke-width="1.3" stroke-linecap="butt"/>
<text font-size="30.2" text-anchor="middle" transform="translate(958.75 1133.3) scale(0.955 1)">3</text>
<line x1="1031.05" y1="1103" x2="1031.05" y2="1096.6" stroke="#1d1d1b" stroke-width="1.3" stroke-linecap="butt"/>
<text font-size="30.2" text-anchor="middle" transform="translate(1031.05 1133.3) scale(0.955 1)">4</text>
<line x1="1103.35" y1="1103" x2="1103.35" y2="1096.6" stroke="#1d1d1b" stroke-width="1.3" stroke-linecap="butt"/>
<text font-size="30.2" text-anchor="middle" transform="translate(1103.35 1133.3) scale(0.955 1)">5</text>
<line x1="1175.65" y1="1103" x2="1175.65" y2="1096.6" stroke="#1d1d1b" stroke-width="1.3" stroke-linecap="butt"/>
<text font-size="30.2" text-anchor="middle" transform="translate(1175.65 1133.3) scale(0.955 1)">6</text>
<line x1="1247.95" y1="1103" x2="1247.95" y2="1096.6" stroke="#1d1d1b" stroke-width="1.3" stroke-linecap="butt"/>
<text font-size="30.2" text-anchor="middle" transform="translate(1247.95 1133.3) scale(0.955 1)">7</text>
<text font-size="29.2" transform="translate(781.8 702.5) scale(0.985 1)">DNA methylation(scDyad&amp;T-seq)</text>
<text font-size="29.2" text-anchor="middle" transform="translate(1030 1170.7) scale(0.985 1)">UMI per Site</text>
<text font-size="29.2" text-anchor="middle" transform="translate(684 884.7) rotate(-90) scale(0.985 1)">Frequency</text>
</g>
<g id="panel-f">
<text font-size="50" transform="translate(1313 637)" font-weight="bold">f</text>
<rect x="1459.5" y="766.47" width="72" height="342.03" fill="#708287" stroke="#1c2629" stroke-width="1.5"/>
<rect x="1531.5" y="1037.46" width="72" height="71.04" fill="#708287" stroke="#1c2629" stroke-width="1.5"/>
<rect x="1603.5" y="1090.08" width="72" height="18.42" fill="#708287" stroke="#1c2629" stroke-width="1.5"/>
<rect x="1675.5" y="1103.24" width="72" height="5.26" fill="#708287" stroke="#1c2629" stroke-width="1.5"/>
<rect x="1747.5" y="1106.75" width="72" height="1.75" fill="#708287" stroke="#1c2629" stroke-width="1.5"/>
<rect x="1819.5" y="1107.84" width="72" height="0.66" fill="#708287" stroke="#1c2629" stroke-width="1.5"/>
<rect x="1891.5" y="1108.15" width="72" height="0.35" fill="#708287" stroke="#1c2629" stroke-width="1.5"/>
<line x1="1434" y1="669.15" x2="1434" y2="1109.35" stroke="#1d1d1b" stroke-width="1.7" stroke-linecap="butt"/>
<line x1="1433.15" y1="1108.5" x2="1990" y2="1108.5" stroke="#1d1d1b" stroke-width="1.7" stroke-linecap="butt"/>
<text font-size="30.2" text-anchor="end" transform="translate(1422 1114.7) scale(0.955 1)">0</text>
<line x1="1434" y1="1020.8" x2="1440.4" y2="1020.8" stroke="#1d1d1b" stroke-width="1.3" stroke-linecap="butt"/>
<text font-size="30.2" text-anchor="end" transform="translate(1422 1030.3) scale(0.955 1)">0.2</text>
<line x1="1434" y1="933.1" x2="1440.4" y2="933.1" stroke="#1d1d1b" stroke-width="1.3" stroke-linecap="butt"/>
<text font-size="30.2" text-anchor="end" transform="translate(1422 942.6) scale(0.955 1)">0.4</text>
<line x1="1434" y1="845.4" x2="1440.4" y2="845.4" stroke="#1d1d1b" stroke-width="1.3" stroke-linecap="butt"/>
<text font-size="30.2" text-anchor="end" transform="translate(1422 854.9) scale(0.955 1)">0.6</text>
<line x1="1434" y1="757.7" x2="1440.4" y2="757.7" stroke="#1d1d1b" stroke-width="1.3" stroke-linecap="butt"/>
<text font-size="30.2" text-anchor="end" transform="translate(1422 767.2) scale(0.955 1)">0.8</text>
<line x1="1434" y1="670" x2="1440.4" y2="670" stroke="#1d1d1b" stroke-width="1.3" stroke-linecap="butt"/>
<text font-size="30.2" text-anchor="end" transform="translate(1422 679.5) scale(0.955 1)">1</text>
<line x1="1434" y1="1064.65" x2="1440.4" y2="1064.65" stroke="#1d1d1b" stroke-width="1.3" stroke-linecap="butt"/>
<line x1="1434" y1="976.95" x2="1440.4" y2="976.95" stroke="#1d1d1b" stroke-width="1.3" stroke-linecap="butt"/>
<line x1="1434" y1="889.25" x2="1440.4" y2="889.25" stroke="#1d1d1b" stroke-width="1.3" stroke-linecap="butt"/>
<line x1="1434" y1="801.55" x2="1440.4" y2="801.55" stroke="#1d1d1b" stroke-width="1.3" stroke-linecap="butt"/>
<line x1="1434" y1="713.85" x2="1440.4" y2="713.85" stroke="#1d1d1b" stroke-width="1.3" stroke-linecap="butt"/>
<line x1="1492.1" y1="1108.5" x2="1492.1" y2="1102.1" stroke="#1d1d1b" stroke-width="1.3" stroke-linecap="butt"/>
<text font-size="30.2" text-anchor="middle" transform="translate(1492.1 1139) scale(0.955 1)">1</text>
<line x1="1564.1" y1="1108.5" x2="1564.1" y2="1102.1" stroke="#1d1d1b" stroke-width="1.3" stroke-linecap="butt"/>
<text font-size="30.2" text-anchor="middle" transform="translate(1564.1 1139) scale(0.955 1)">2</text>
<line x1="1636.1" y1="1108.5" x2="1636.1" y2="1102.1" stroke="#1d1d1b" stroke-width="1.3" stroke-linecap="butt"/>
<text font-size="30.2" text-anchor="middle" transform="translate(1636.1 1139) scale(0.955 1)">3</text>
<line x1="1708.1" y1="1108.5" x2="1708.1" y2="1102.1" stroke="#1d1d1b" stroke-width="1.3" stroke-linecap="butt"/>
<text font-size="30.2" text-anchor="middle" transform="translate(1708.1 1139) scale(0.955 1)">4</text>
<line x1="1780.1" y1="1108.5" x2="1780.1" y2="1102.1" stroke="#1d1d1b" stroke-width="1.3" stroke-linecap="butt"/>
<text font-size="30.2" text-anchor="middle" transform="translate(1780.1 1139) scale(0.955 1)">5</text>
<line x1="1852.1" y1="1108.5" x2="1852.1" y2="1102.1" stroke="#1d1d1b" stroke-width="1.3" stroke-linecap="butt"/>
<text font-size="30.2" text-anchor="middle" transform="translate(1852.1 1139) scale(0.955 1)">6</text>
<line x1="1924.1" y1="1108.5" x2="1924.1" y2="1102.1" stroke="#1d1d1b" stroke-width="1.3" stroke-linecap="butt"/>
<text font-size="30.2" text-anchor="middle" transform="translate(1924.1 1139) scale(0.955 1)">7</text>
<text font-size="29.2" transform="translate(1462.5 703.5) scale(0.985 1)">DNA maintenance methylation (scDyad&amp;T-seq)</text>
<text font-size="29.2" text-anchor="middle" transform="translate(1712 1171) scale(0.985 1)">UMI per Site</text>
<text font-size="29.2" text-anchor="middle" transform="translate(1352 890.7) rotate(-90) scale(0.985 1)">Frequency</text>
</g>
<g id="panel-g">
<text font-size="50" transform="translate(15 1275)" font-weight="bold">g</text>
<rect x="184" y="1511.18" width="21.05" height="198.12" fill="#708287" stroke="#1c2629" stroke-width="1.5"/>
<rect x="205.05" y="1549.76" width="21.05" height="159.54" fill="#708287" stroke="#1c2629" stroke-width="1.5"/>
<rect x="226.1" y="1577.91" width="21.05" height="131.39" fill="#708287" stroke="#1c2629" stroke-width="1.5"/>
<rect x="247.15" y="1602.94" width="21.05" height="106.36" fill="#708287" stroke="#1c2629" stroke-width="1.5"/>
<rect x="268.2" y="1623.79" width="21.05" height="85.51" fill="#708287" stroke="#1c2629" stroke-width="1.5"/>
<rect x="289.25" y="1640.48" width="21.05" height="68.82" fill="#708287" stroke="#1c2629" stroke-width="1.5"/>
<rect x="310.3" y="1655.08" width="21.05" height="54.22" fill="#708287" stroke="#1c2629" stroke-width="1.5"/>
<rect x="331.35" y="1665.5" width="21.05" height="43.8" fill="#708287" stroke="#1c2629" stroke-width="1.5"/>
<rect x="352.4" y="1673.85" width="21.05" height="35.45" fill="#708287" stroke="#1c2629" stroke-width="1.5"/>
<rect x="373.45" y="1681.15" width="21.05" height="28.15" fill="#708287" stroke="#1c2629" stroke-width="1.5"/>
<rect x="394.5" y="1686.36" width="21.05" height="22.94" fill="#708287" stroke="#1c2629" stroke-width="1.5"/>
<rect x="415.55" y="1690.53" width="21.05" height="18.77" fill="#708287" stroke="#1c2629" stroke-width="1.5"/>
<rect x="436.6" y="1693.66" width="21.05" height="15.64" fill="#708287" stroke="#1c2629" stroke-width="1.5"/>
<rect x="457.65" y="1696.79" width="21.05" height="12.51" fill="#708287" stroke="#1c2629" stroke-width="1.5"/>
<rect x="478.7" y="1698.87" width="21.05" height="10.43" fill="#708287" stroke="#1c2629" stroke-width="1.5"/>
<rect x="499.75" y="1700.96" width="21.05" height="8.34" fill="#708287" stroke="#1c2629" stroke-width="1.5"/>
<rect x="520.8" y="1702" width="21.05" height="7.3" fill="#708287" stroke="#1c2629" stroke-width="1.5"/>
<rect x="541.85" y="1703.04" width="21.05" height="6.26" fill="#708287" stroke="#1c2629" stroke-width="1.5"/>
<rect x="562.9" y="1704.09" width="21.05" height="5.21" fill="#708287" stroke="#1c2629" stroke-width="1.5"/>
<rect x="583.95" y="1704.09" width="21.05" height="5.21" fill="#708287" stroke="#1c2629" stroke-width="1.5"/>
<rect x="605" y="1705.13" width="21.05" height="4.17" fill="#708287" stroke="#1c2629" stroke-width="1.5"/>
<rect x="626.05" y="1705.13" width="21.05" height="4.17" fill="#708287" stroke="#1c2629" stroke-width="1.5"/>
<rect x="647.1" y="1706.17" width="21.05" height="3.13" fill="#708287" stroke="#1c2629" stroke-width="1.5"/>
<rect x="668.15" y="1704.09" width="21.05" height="5.21" fill="#708287" stroke="#1c2629" stroke-width="1.5"/>
<line x1="158.9" y1="1271.05" x2="158.9" y2="1710.15" stroke="#1d1d1b" stroke-width="1.7" stroke-linecap="butt"/>
<line x1="158.05" y1="1709.3" x2="714.1" y2="1709.3" stroke="#1d1d1b" stroke-width="1.7" stroke-linecap="butt"/>
<text font-size="30.2" text-anchor="end" transform="translate(138.7 1715.5) scale(0.955 1)">0</text>
<line x1="158.9" y1="1605.03" x2="165.3" y2="1605.03" stroke="#1d1d1b" stroke-width="1.3" stroke-linecap="butt"/>
<text font-size="30.2" text-anchor="end" transform="translate(147.5 1614.53) scale(0.955 1)">0.1</text>
<line x1="158.9" y1="1500.75" x2="165.3" y2="1500.75" stroke="#1d1d1b" stroke-width="1.3" stroke-linecap="butt"/>
<text font-size="30.2" text-anchor="end" transform="translate(147.5 1510.25) scale(0.955 1)">0.2</text>
<line x1="158.9" y1="1396.48" x2="165.3" y2="1396.48" stroke="#1d1d1b" stroke-width="1.3" stroke-linecap="butt"/>
<text font-size="30.2" text-anchor="end" transform="translate(147.5 1405.98) scale(0.955 1)">0.3</text>
<line x1="158.9" y1="1292.2" x2="165.3" y2="1292.2" stroke="#1d1d1b" stroke-width="1.3" stroke-linecap="butt"/>
<text font-size="30.2" text-anchor="end" transform="translate(147.5 1301.7) scale(0.955 1)">0.4</text>
<line x1="158.9" y1="1657.16" x2="165.3" y2="1657.16" stroke="#1d1d1b" stroke-width="1.3" stroke-linecap="butt"/>
<line x1="158.9" y1="1552.89" x2="165.3" y2="1552.89" stroke="#1d1d1b" stroke-width="1.3" stroke-linecap="butt"/>
<line x1="158.9" y1="1448.61" x2="165.3" y2="1448.61" stroke="#1d1d1b" stroke-width="1.3" stroke-linecap="butt"/>
<line x1="158.9" y1="1344.34" x2="165.3" y2="1344.34" stroke="#1d1d1b" stroke-width="1.3" stroke-linecap="butt"/>
<line x1="194.53" y1="1709.3" x2="194.53" y2="1702.9" stroke="#1d1d1b" stroke-width="1.3" stroke-linecap="butt"/>
<text font-size="30.2" text-anchor="middle" transform="translate(194.53 1740) scale(0.955 1)">1</text>
<line x1="278.73" y1="1709.3" x2="278.73" y2="1702.9" stroke="#1d1d1b" stroke-width="1.3" stroke-linecap="butt"/>
<text font-size="30.2" text-anchor="middle" transform="translate(278.73 1740) scale(0.955 1)">5</text>
<line x1="383.98" y1="1709.3" x2="383.98" y2="1702.9" stroke="#1d1d1b" stroke-width="1.3" stroke-linecap="butt"/>
<text font-size="30.2" text-anchor="middle" transform="translate(383.98 1740) scale(0.955 1)">10</text>
<line x1="489.23" y1="1709.3" x2="489.23" y2="1702.9" stroke="#1d1d1b" stroke-width="1.3" stroke-linecap="butt"/>
<text font-size="30.2" text-anchor="middle" transform="translate(489.23 1740) scale(0.955 1)">15</text>
<line x1="594.48" y1="1709.3" x2="594.48" y2="1702.9" stroke="#1d1d1b" stroke-width="1.3" stroke-linecap="butt"/>
<text font-size="30.2" text-anchor="middle" transform="translate(594.48 1740) scale(0.955 1)">20</text>
<text font-size="29.2" transform="translate(176.5 1329.3) scale(0.985 1)">DNA methylation (M-M-Dyad-seq)</text>
<text font-size="29.2" text-anchor="middle" transform="translate(436.7 1776) scale(0.985 1)">UMI per site</text>
<text font-size="29.2" text-anchor="middle" transform="translate(82 1492) rotate(-90) scale(0.985 1)">Frequency</text>
</g>
<g id="panel-h">
<text font-size="50" transform="translate(795.3 1283.5)" font-weight="bold">h</text>
<rect x="961.4" y="1292.8" width="21.05" height="416.5" fill="#708287" stroke="#1c2629" stroke-width="1.5"/>
<rect x="982.45" y="1505.21" width="21.05" height="204.09" fill="#708287" stroke="#1c2629" stroke-width="1.5"/>
<rect x="1003.5" y="1584.35" width="21.05" height="124.95" fill="#708287" stroke="#1c2629" stroke-width="1.5"/>
<rect x="1024.55" y="1627.04" width="21.05" height="82.26" fill="#708287" stroke="#1c2629" stroke-width="1.5"/>
<rect x="1045.6" y="1652.03" width="21.05" height="57.27" fill="#708287" stroke="#1c2629" stroke-width="1.5"/>
<rect x="1066.65" y="1668.69" width="21.05" height="40.61" fill="#708287" stroke="#1c2629" stroke-width="1.5"/>
<rect x="1087.7" y="1680.14" width="21.05" height="29.15" fill="#708287" stroke="#1c2629" stroke-width="1.5"/>
<rect x="1108.75" y="1687.43" width="21.05" height="21.87" fill="#708287" stroke="#1c2629" stroke-width="1.5"/>
<rect x="1129.8" y="1692.64" width="21.05" height="16.66" fill="#708287" stroke="#1c2629" stroke-width="1.5"/>
<rect x="1150.85" y="1696.81" width="21.05" height="12.49" fill="#708287" stroke="#1c2629" stroke-width="1.5"/>
<rect x="1171.9" y="1699.93" width="21.05" height="9.37" fill="#708287" stroke="#1c2629" stroke-width="1.5"/>
<rect x="1192.95" y="1702.01" width="21.05" height="7.29" fill="#708287" stroke="#1c2629" stroke-width="1.5"/>
<rect x="1214" y="1704.09" width="21.05" height="5.21" fill="#708287" stroke="#1c2629" stroke-width="1.5"/>
<rect x="1235.05" y="1705.13" width="21.05" height="4.16" fill="#708287" stroke="#1c2629" stroke-width="1.5"/>
<rect x="1256.1" y="1706.18" width="21.05" height="3.12" fill="#708287" stroke="#1c2629" stroke-width="1.5"/>
<rect x="1277.15" y="1706.7" width="21.05" height="2.6" fill="#708287" stroke="#1c2629" stroke-width="1.5"/>
<rect x="1298.2" y="1707.22" width="21.05" height="2.08" fill="#708287" stroke="#1c2629" stroke-width="1.5"/>
<rect x="1319.25" y="1707.74" width="21.05" height="1.56" fill="#708287" stroke="#1c2629" stroke-width="1.5"/>
<rect x="1340.3" y="1708.26" width="21.05" height="1.04" fill="#708287" stroke="#1c2629" stroke-width="1.5"/>
<rect x="1361.35" y="1708.26" width="21.05" height="1.04" fill="#708287" stroke="#1c2629" stroke-width="1.5"/>
<rect x="1382.4" y="1708.47" width="21.05" height="0.83" fill="#708287" stroke="#1c2629" stroke-width="1.5"/>
<rect x="1403.45" y="1708.68" width="21.05" height="0.62" fill="#708287" stroke="#1c2629" stroke-width="1.5"/>
<rect x="1424.5" y="1708.78" width="21.05" height="0.52" fill="#708287" stroke="#1c2629" stroke-width="1.5"/>
<rect x="1445.55" y="1708.78" width="21.05" height="0.52" fill="#708287" stroke="#1c2629" stroke-width="1.5"/>
<line x1="935.8" y1="1271.75" x2="935.8" y2="1710.15" stroke="#1d1d1b" stroke-width="1.7" stroke-linecap="butt"/>
<line x1="934.95" y1="1709.3" x2="1491.5" y2="1709.3" stroke="#1d1d1b" stroke-width="1.7" stroke-linecap="butt"/>
<text font-size="30.2" text-anchor="end" transform="translate(915.6 1715.5) scale(0.955 1)">0</text>
<line x1="935.8" y1="1605.17" x2="942.2" y2="1605.17" stroke="#1d1d1b" stroke-width="1.3" stroke-linecap="butt"/>
<text font-size="30.2" text-anchor="end" transform="translate(925.6 1614.67) scale(0.955 1)">0.1</text>
<line x1="935.8" y1="1501.05" x2="942.2" y2="1501.05" stroke="#1d1d1b" stroke-width="1.3" stroke-linecap="butt"/>
<text font-size="30.2" text-anchor="end" transform="translate(925.6 1510.55) scale(0.955 1)">0.2</text>
<line x1="935.8" y1="1396.92" x2="942.2" y2="1396.92" stroke="#1d1d1b" stroke-width="1.3" stroke-linecap="butt"/>
<text font-size="30.2" text-anchor="end" transform="translate(925.6 1406.42) scale(0.955 1)">0.3</text>
<line x1="935.8" y1="1292.8" x2="942.2" y2="1292.8" stroke="#1d1d1b" stroke-width="1.3" stroke-linecap="butt"/>
<text font-size="30.2" text-anchor="end" transform="translate(925.6 1302.3) scale(0.955 1)">0.4</text>
<line x1="935.8" y1="1657.24" x2="942.2" y2="1657.24" stroke="#1d1d1b" stroke-width="1.3" stroke-linecap="butt"/>
<line x1="935.8" y1="1553.11" x2="942.2" y2="1553.11" stroke="#1d1d1b" stroke-width="1.3" stroke-linecap="butt"/>
<line x1="935.8" y1="1448.99" x2="942.2" y2="1448.99" stroke="#1d1d1b" stroke-width="1.3" stroke-linecap="butt"/>
<line x1="935.8" y1="1344.86" x2="942.2" y2="1344.86" stroke="#1d1d1b" stroke-width="1.3" stroke-linecap="butt"/>
<line x1="971.92" y1="1709.3" x2="971.92" y2="1702.9" stroke="#1d1d1b" stroke-width="1.3" stroke-linecap="butt"/>
<text font-size="30.2" text-anchor="middle" transform="translate(971.92 1741) scale(0.955 1)">1</text>
<line x1="1056.12" y1="1709.3" x2="1056.12" y2="1702.9" stroke="#1d1d1b" stroke-width="1.3" stroke-linecap="butt"/>
<text font-size="30.2" text-anchor="middle" transform="translate(1056.12 1741) scale(0.955 1)">5</text>
<line x1="1161.38" y1="1709.3" x2="1161.38" y2="1702.9" stroke="#1d1d1b" stroke-width="1.3" stroke-linecap="butt"/>
<text font-size="30.2" text-anchor="middle" transform="translate(1161.38 1741) scale(0.955 1)">10</text>
<line x1="1266.62" y1="1709.3" x2="1266.62" y2="1702.9" stroke="#1d1d1b" stroke-width="1.3" stroke-linecap="butt"/>
<text font-size="30.2" text-anchor="middle" transform="translate(1266.62 1741) scale(0.955 1)">15</text>
<line x1="1371.88" y1="1709.3" x2="1371.88" y2="1702.9" stroke="#1d1d1b" stroke-width="1.3" stroke-linecap="butt"/>
<text font-size="30.2" text-anchor="middle" transform="translate(1371.88 1741) scale(0.955 1)">20</text>
<text font-size="29.2" transform="translate(1001.8 1330) scale(0.985 1)">DNA maintenance methylation (M-M-Dyad-seq)</text>
<text font-size="29.2" text-anchor="middle" transform="translate(1213 1777) scale(0.985 1)">UMI per site</text>
<text font-size="29.2" text-anchor="middle" transform="translate(861 1491.5) rotate(-90) scale(0.985 1)">Frequency</text>
</g>
<g id="panel-i">
<text font-size="50" transform="translate(22 1869.5)" font-weight="bold">i</text>
<g fill="#2c59e6" stroke="#141a2e" stroke-width="1.3">
<circle cx="675.8" cy="1982.61" r="4.99"/>
<circle cx="592.15" cy="2051.24" r="3.99"/>
<circle cx="601.89" cy="2079.45" r="3.99"/>
<circle cx="682.79" cy="2109.17" r="6.99"/>
<circle cx="657.32" cy="2117.41" r="4.74"/>
<circle cx="598.39" cy="2123.65" r="3.99"/>
<circle cx="610.38" cy="2123.9" r="3.99"/>
<circle cx="622.36" cy="2127.15" r="4.24"/>
<circle cx="638.34" cy="2132.39" r="4.24"/>
<circle cx="660.82" cy="2131.64" r="5.99"/>
<circle cx="679.3" cy="2127.65" r="6.49"/>
<circle cx="677.8" cy="2145.63" r="6.49"/>
<circle cx="651.08" cy="2146.38" r="5.74"/>
<circle cx="667.81" cy="2148.37" r="6.49"/>
<circle cx="404.87" cy="2149.37" r="3.5"/>
<circle cx="551.2" cy="2148.87" r="3.75"/>
<circle cx="533.97" cy="2155.12" r="3.75"/>
<circle cx="596.14" cy="2159.11" r="3.99"/>
<circle cx="578.91" cy="2163.36" r="3.99"/>
<circle cx="691.28" cy="2165.1" r="7.49"/>
<circle cx="529.47" cy="2174.34" r="3.5"/>
<circle cx="572.42" cy="2177.84" r="3.99"/>
<circle cx="677.3" cy="2179.34" r="6.49"/>
<circle cx="617.37" cy="2181.84" r="4.24"/>
<circle cx="702.52" cy="2184.08" r="4.74"/>
<circle cx="627.86" cy="2191.82" r="4.24"/>
<circle cx="494.51" cy="2190.57" r="3.5"/>
<circle cx="582.66" cy="2194.82" r="3.99"/>
<circle cx="372.65" cy="2195.82" r="3.5"/>
<circle cx="653.33" cy="2197.82" r="6.24"/>
<circle cx="649.58" cy="2198.82" r="6.24"/>
<circle cx="569.92" cy="2204.31" r="3.99"/>
<circle cx="610.63" cy="2209.05" r="5.24"/>
<circle cx="620.37" cy="2211.55" r="3.99"/>
<circle cx="624.61" cy="2213.55" r="4.49"/>
<circle cx="679.55" cy="2211.8" r="6.24"/>
<circle cx="696.03" cy="2208.3" r="6.49"/>
<circle cx="711.51" cy="2218.54" r="6.99"/>
<circle cx="591.15" cy="2219.29" r="3.99"/>
<circle cx="628.36" cy="2220.29" r="4.99"/>
<circle cx="645.09" cy="2221.04" r="5.99"/>
<circle cx="631.35" cy="2226.03" r="5.24"/>
<circle cx="640.84" cy="2225.28" r="5.74"/>
<circle cx="660.57" cy="2230.28" r="6.74"/>
<circle cx="527.47" cy="2226.53" r="3.75"/>
<circle cx="568.43" cy="2236.27" r="3.99"/>
<circle cx="579.91" cy="2238.27" r="3.99"/>
<circle cx="601.64" cy="2247.26" r="4.24"/>
<circle cx="676.55" cy="2250.51" r="6.74"/>
<circle cx="645.59" cy="2262.99" r="5.74"/>
<circle cx="657.07" cy="2267.49" r="6.74"/>
<circle cx="672.8" cy="2264.49" r="6.49"/>
<circle cx="607.38" cy="2266.74" r="4.24"/>
<circle cx="620.87" cy="2267.24" r="5.74"/>
<circle cx="457.31" cy="2268.23" r="3.5"/>
<circle cx="510.49" cy="2276.23" r="3.75"/>
<circle cx="561.68" cy="2280.47" r="3.99"/>
<circle cx="529.22" cy="2290.21" r="3.75"/>
<circle cx="614.87" cy="2291.96" r="5.74"/>
<circle cx="570.92" cy="2297.2" r="3.99"/>
<circle cx="551.45" cy="2299.7" r="3.99"/>
<circle cx="600.64" cy="2306.99" r="4.24"/>
<circle cx="612.62" cy="2308.99" r="3.99"/>
<circle cx="633.35" cy="2324.47" r="5.49"/>
<circle cx="657.82" cy="2328.97" r="4.74"/>
<circle cx="343.69" cy="2325.22" r="3.5"/>
<circle cx="365.91" cy="2333.71" r="3.5"/>
<circle cx="487.52" cy="2329.97" r="3.5"/>
<circle cx="478.28" cy="2335.71" r="3.5"/>
<circle cx="528.47" cy="2335.71" r="3.75"/>
<circle cx="561.43" cy="2355.19" r="5.24"/>
<circle cx="589.65" cy="2358.93" r="5.74"/>
<circle cx="661.82" cy="2366.92" r="7.24"/>
<circle cx="699.02" cy="2379.16" r="7.74"/>
<circle cx="559.69" cy="2378.66" r="4.99"/>
<circle cx="573.92" cy="2377.41" r="4.99"/>
<circle cx="320.21" cy="2393.64" r="3.25"/>
<circle cx="479.03" cy="2418.61" r="3.5"/>
<circle cx="492.02" cy="2418.61" r="3.5"/>
<circle cx="460.8" cy="2431.1" r="3.5"/>
<circle cx="561.43" cy="2419.86" r="4.49"/>
<circle cx="606.88" cy="2436.09" r="5.24"/>
<circle cx="518.98" cy="2457.32" r="4.74"/>
<circle cx="807.65" cy="1932.19" r="11.49"/>
<circle cx="809.15" cy="1967.9" r="9.74"/>
<circle cx="725.49" cy="1983.88" r="7.99"/>
<circle cx="792.92" cy="2005.35" r="6.99"/>
<circle cx="723.75" cy="2026.08" r="4.99"/>
<circle cx="733.23" cy="2037.82" r="4.99"/>
<circle cx="773.44" cy="2132.46" r="5.99"/>
<circle cx="736.48" cy="2157.98" r="7.49"/>
<circle cx="724.99" cy="2163.72" r="6.99"/>
<circle cx="733.73" cy="2168.72" r="7.49"/>
<circle cx="727.49" cy="2197.43" r="6.99"/>
<circle cx="741.72" cy="2205.42" r="6.99"/>
<circle cx="741.97" cy="2218.16" r="8.49"/>
<circle cx="738.23" cy="2270.85" r="7.49"/>
</g>
<g fill="#f5122b" stroke="#2a1416" stroke-width="1.3">
<circle cx="955.48" cy="1950.42" r="9.99"/>
<circle cx="949.98" cy="1937.93" r="10.49"/>
<circle cx="908.53" cy="1947.92" r="14.48"/>
<circle cx="890.05" cy="1956.41" r="10.74"/>
<circle cx="941.99" cy="1958.41" r="11.99"/>
<circle cx="847.35" cy="2001.86" r="10.74"/>
<circle cx="851.6" cy="1994.12" r="13.48"/>
<circle cx="907.78" cy="1987.87" r="10.74"/>
<circle cx="879.81" cy="2008.6" r="11.49"/>
<circle cx="883.56" cy="2003.61" r="14.98"/>
<circle cx="890.55" cy="1999.86" r="10.74"/>
<circle cx="914.52" cy="2004.36" r="11.99"/>
<circle cx="955.98" cy="2019.84" r="12.48"/>
<circle cx="958.47" cy="2011.1" r="13.23"/>
<circle cx="938.75" cy="2007.85" r="11.99"/>
<circle cx="1003.42" cy="1996.86" r="14.48"/>
<circle cx="1030.64" cy="2006.6" r="20.23"/>
<circle cx="871.07" cy="2023.58" r="6.99"/>
<circle cx="856.09" cy="2031.07" r="9.99"/>
<circle cx="852.1" cy="2035.32" r="9.99"/>
<circle cx="823.63" cy="2031.82" r="12.73"/>
<circle cx="879.81" cy="2030.33" r="9.99"/>
<circle cx="911.78" cy="2024.83" r="7.49"/>
<circle cx="899.29" cy="2033.57" r="9.99"/>
<circle cx="925.26" cy="2039.81" r="9.49"/>
<circle cx="939.74" cy="2036.07" r="10.74"/>
<circle cx="906.03" cy="2041.06" r="11.49"/>
<circle cx="892.3" cy="2043.56" r="10.74"/>
<circle cx="897.29" cy="2049.8" r="10.74"/>
<circle cx="919.77" cy="2047.31" r="10.74"/>
<circle cx="939.25" cy="2047.31" r="10.74"/>
<circle cx="894.8" cy="2057.29" r="9.49"/>
<circle cx="917.27" cy="2059.79" r="11.49"/>
<circle cx="838.61" cy="2053.55" r="8.99"/>
<circle cx="864.83" cy="2058.54" r="14.48"/>
<circle cx="862.33" cy="2069.28" r="11.49"/>
<circle cx="980.95" cy="2055.3" r="15.73"/>
<circle cx="970.96" cy="2057.29" r="11.24"/>
<circle cx="798.66" cy="2066.78" r="8.99"/>
<circle cx="947.24" cy="2072.78" r="10.74"/>
<circle cx="908.53" cy="2072.28" r="10.74"/>
<circle cx="928.51" cy="2072.28" r="12.48"/>
<circle cx="903.54" cy="2082.76" r="12.48"/>
<circle cx="918.52" cy="2084.76" r="9.49"/>
<circle cx="931.75" cy="2087.26" r="8.99"/>
<circle cx="858.84" cy="2089.26" r="11.99"/>
<circle cx="951.23" cy="2096.25" r="12.73"/>
<circle cx="852.85" cy="2102.24" r="9.99"/>
<circle cx="1033.14" cy="2074.27" r="20.23"/>
<circle cx="909.28" cy="2112.73" r="11.24"/>
<circle cx="860.34" cy="2138.45" r="11.24"/>
<circle cx="894.3" cy="2139.7" r="8.99"/>
<circle cx="940.49" cy="2134.2" r="12.48"/>
<circle cx="901.79" cy="2156.23" r="11.99"/>
<circle cx="900.29" cy="2179.45" r="8.99"/>
<circle cx="904.79" cy="2181.2" r="10.49"/>
<circle cx="922.26" cy="2255.87" r="12.98"/>
</g>
<line x1="168.65" y1="1871.6" x2="168.65" y2="2615" stroke="#1d1d1b" stroke-width="1.8" stroke-linecap="butt"/>
<line x1="167.75" y1="2614.1" x2="1107.9" y2="2614.1" stroke="#1d1d1b" stroke-width="1.8" stroke-linecap="butt"/>
<line x1="151.8" y1="1872.4" x2="161" y2="1872.4" stroke="#1d1d1b" stroke-width="1.8" stroke-linecap="butt"/>
<text font-size="29.75" text-anchor="end" transform="translate(161.3 2618.6) scale(0.955 1)">0</text>
<line x1="168.65" y1="2546.67" x2="179.15" y2="2546.67" stroke="#1d1d1b" stroke-width="1.8" stroke-linecap="butt"/>
<text font-size="29.75" text-anchor="end" transform="translate(155 2557.57) scale(0.955 1)">1000</text>
<line x1="168.65" y1="2479.25" x2="179.15" y2="2479.25" stroke="#1d1d1b" stroke-width="1.8" stroke-linecap="butt"/>
<text font-size="29.75" text-anchor="end" transform="translate(155 2490.15) scale(0.955 1)">2000</text>
<line x1="168.65" y1="2411.82" x2="179.15" y2="2411.82" stroke="#1d1d1b" stroke-width="1.8" stroke-linecap="butt"/>
<text font-size="29.75" text-anchor="end" transform="translate(155 2422.72) scale(0.955 1)">3000</text>
<line x1="168.65" y1="2344.39" x2="179.15" y2="2344.39" stroke="#1d1d1b" stroke-width="1.8" stroke-linecap="butt"/>
<text font-size="29.75" text-anchor="end" transform="translate(155 2355.29) scale(0.955 1)">4000</text>
<line x1="168.65" y1="2276.96" x2="179.15" y2="2276.96" stroke="#1d1d1b" stroke-width="1.8" stroke-linecap="butt"/>
<text font-size="29.75" text-anchor="end" transform="translate(155 2287.86) scale(0.955 1)">5000</text>
<line x1="168.65" y1="2209.54" x2="179.15" y2="2209.54" stroke="#1d1d1b" stroke-width="1.8" stroke-linecap="butt"/>
<text font-size="29.75" text-anchor="end" transform="translate(155 2220.44) scale(0.955 1)">6000</text>
<line x1="168.65" y1="2142.11" x2="179.15" y2="2142.11" stroke="#1d1d1b" stroke-width="1.8" stroke-linecap="butt"/>
<text font-size="29.75" text-anchor="end" transform="translate(155 2153.01) scale(0.955 1)">7000</text>
<line x1="168.65" y1="2074.68" x2="179.15" y2="2074.68" stroke="#1d1d1b" stroke-width="1.8" stroke-linecap="butt"/>
<text font-size="29.75" text-anchor="end" transform="translate(155 2085.58) scale(0.955 1)">8000</text>
<line x1="168.65" y1="2007.26" x2="179.15" y2="2007.26" stroke="#1d1d1b" stroke-width="1.8" stroke-linecap="butt"/>
<text font-size="29.75" text-anchor="end" transform="translate(155 2018.16) scale(0.955 1)">9000</text>
<line x1="168.65" y1="1939.83" x2="179.15" y2="1939.83" stroke="#1d1d1b" stroke-width="1.8" stroke-linecap="butt"/>
<text font-size="29.75" text-anchor="end" transform="translate(153 1950.73) scale(0.955 1)">10000</text>
<text font-size="29.75" text-anchor="end" transform="translate(153 1883.3) scale(0.955 1)">11000</text>
<line x1="262.81" y1="2614.1" x2="262.81" y2="2608.1" stroke="#1d1d1b" stroke-width="1.7" stroke-linecap="butt"/>
<line x1="317.88" y1="2614.1" x2="317.88" y2="2608.1" stroke="#1d1d1b" stroke-width="1.7" stroke-linecap="butt"/>
<line x1="356.96" y1="2614.1" x2="356.96" y2="2608.1" stroke="#1d1d1b" stroke-width="1.7" stroke-linecap="butt"/>
<line x1="387.27" y1="2614.1" x2="387.27" y2="2608.1" stroke="#1d1d1b" stroke-width="1.7" stroke-linecap="butt"/>
<line x1="412.04" y1="2614.1" x2="412.04" y2="2608.1" stroke="#1d1d1b" stroke-width="1.7" stroke-linecap="butt"/>
<line x1="432.98" y1="2614.1" x2="432.98" y2="2608.1" stroke="#1d1d1b" stroke-width="1.7" stroke-linecap="butt"/>
<line x1="451.12" y1="2614.1" x2="451.12" y2="2608.1" stroke="#1d1d1b" stroke-width="1.7" stroke-linecap="butt"/>
<line x1="467.12" y1="2614.1" x2="467.12" y2="2608.1" stroke="#1d1d1b" stroke-width="1.7" stroke-linecap="butt"/>
<line x1="481.43" y1="2614.1" x2="481.43" y2="2604.1" stroke="#1d1d1b" stroke-width="1.7" stroke-linecap="butt"/>
<line x1="575.59" y1="2614.1" x2="575.59" y2="2608.1" stroke="#1d1d1b" stroke-width="1.7" stroke-linecap="butt"/>
<line x1="630.66" y1="2614.1" x2="630.66" y2="2608.1" stroke="#1d1d1b" stroke-width="1.7" stroke-linecap="butt"/>
<line x1="669.74" y1="2614.1" x2="669.74" y2="2608.1" stroke="#1d1d1b" stroke-width="1.7" stroke-linecap="butt"/>
<line x1="700.05" y1="2614.1" x2="700.05" y2="2608.1" stroke="#1d1d1b" stroke-width="1.7" stroke-linecap="butt"/>
<line x1="724.82" y1="2614.1" x2="724.82" y2="2608.1" stroke="#1d1d1b" stroke-width="1.7" stroke-linecap="butt"/>
<line x1="745.76" y1="2614.1" x2="745.76" y2="2608.1" stroke="#1d1d1b" stroke-width="1.7" stroke-linecap="butt"/>
<line x1="763.9" y1="2614.1" x2="763.9" y2="2608.1" stroke="#1d1d1b" stroke-width="1.7" stroke-linecap="butt"/>
<line x1="779.9" y1="2614.1" x2="779.9" y2="2608.1" stroke="#1d1d1b" stroke-width="1.7" stroke-linecap="butt"/>
<line x1="794.21" y1="2614.1" x2="794.21" y2="2604.1" stroke="#1d1d1b" stroke-width="1.7" stroke-linecap="butt"/>
<line x1="888.37" y1="2614.1" x2="888.37" y2="2608.1" stroke="#1d1d1b" stroke-width="1.7" stroke-linecap="butt"/>
<line x1="943.44" y1="2614.1" x2="943.44" y2="2608.1" stroke="#1d1d1b" stroke-width="1.7" stroke-linecap="butt"/>
<line x1="982.52" y1="2614.1" x2="982.52" y2="2608.1" stroke="#1d1d1b" stroke-width="1.7" stroke-linecap="butt"/>
<line x1="1012.83" y1="2614.1" x2="1012.83" y2="2608.1" stroke="#1d1d1b" stroke-width="1.7" stroke-linecap="butt"/>
<line x1="1037.6" y1="2614.1" x2="1037.6" y2="2608.1" stroke="#1d1d1b" stroke-width="1.7" stroke-linecap="butt"/>
<line x1="1058.54" y1="2614.1" x2="1058.54" y2="2608.1" stroke="#1d1d1b" stroke-width="1.7" stroke-linecap="butt"/>
<line x1="1076.68" y1="2614.1" x2="1076.68" y2="2608.1" stroke="#1d1d1b" stroke-width="1.7" stroke-linecap="butt"/>
<line x1="1092.68" y1="2614.1" x2="1092.68" y2="2608.1" stroke="#1d1d1b" stroke-width="1.7" stroke-linecap="butt"/>
<line x1="1106.99" y1="2614.1" x2="1106.99" y2="2604.1" stroke="#1d1d1b" stroke-width="1.7" stroke-linecap="butt"/>
<text font-size="30.2" transform="translate(149.9 2647.4) scale(0.955 1)">10<tspan dy="-10.27" font-size="16.01">4</tspan></text>
<text font-size="30.2" transform="translate(458.8 2647.4) scale(0.955 1)">10<tspan dy="-10.27" font-size="16.01">5</tspan></text>
<text font-size="30.2" transform="translate(773.4 2647.4) scale(0.955 1)">10<tspan dy="-10.27" font-size="16.01">6</tspan></text>
<text font-size="30.2" transform="translate(1087.1 2647.4) scale(0.955 1)">10<tspan dy="-10.27" font-size="16.01">7</tspan></text>
<text font-size="29.2" text-anchor="middle" transform="translate(637 2686) scale(0.985 1)">CpG coverage</text>
<text font-size="29.2" text-anchor="middle" transform="translate(59.6 2244) rotate(-90) scale(0.985 1)">Number of genes</text>
<circle cx="234.1" cy="1926.9" r="8.7" fill="#2c59e6" stroke="#141a2e" stroke-width="1.4"/>
<circle cx="234.1" cy="1960.6" r="8.7" fill="#f5122b" stroke="#2a1416" stroke-width="1.4"/>
<text font-size="26.4" transform="translate(257.6 1936.6) scale(0.99 1)">scDyad&amp;T-seq</text>
<text font-size="26.4" transform="translate(257.6 1970.4) scale(0.99 1)">scM&amp;T-seq</text>
<text font-size="29.2" transform="translate(950.3 2341.7) scale(0.985 1)">Read Depth</text>
<circle cx="950.7" cy="2378.9" r="4.5" fill="#1b1b1f"/>
<text font-size="30.2" transform="translate(979.2 2388.7) scale(0.955 1)">1 x 10<tspan dy="-10.27" font-size="16.01">5</tspan></text>
<circle cx="950.7" cy="2425.9" r="5.7" fill="#1b1b1f"/>
<text font-size="30.2" transform="translate(979.2 2435.7) scale(0.955 1)">1 x 10<tspan dy="-10.27" font-size="16.01">6</tspan></text>
<circle cx="950.7" cy="2473" r="12.7" fill="#1b1b1f"/>
<text font-size="30.2" transform="translate(979.2 2482.8) scale(0.955 1)">1 x 10<tspan dy="-10.27" font-size="16.01">7</tspan></text>
<circle cx="950.7" cy="2520.3" r="17.4" fill="#1b1b1f"/>
<text font-size="30.2" transform="translate(979.2 2530.1) scale(0.955 1)">2 x 10<tspan dy="-10.27" font-size="16.01">7</tspan></text>
<circle cx="950.7" cy="2567.6" r="21.5" fill="#1b1b1f"/>
<text font-size="30.2" transform="translate(979.2 2577.4) scale(0.955 1)">3 x 10<tspan dy="-10.27" font-size="16.01">7</tspan></text>
</g>
<g id="panel-j">
<text font-size="50" transform="translate(1154.5 1872.5)" font-weight="bold">j</text>
<line x1="1302" y1="1936.5" x2="1302" y2="2489" stroke="#1d1d1b" stroke-width="2" stroke-linecap="butt"/>
<line x1="1301" y1="2488" x2="2017" y2="2488" stroke="#1d1d1b" stroke-width="2" stroke-linecap="butt"/>
<text font-size="30.2" text-anchor="end" transform="translate(1288.5 2500.3) scale(0.955 1)">0</text>
<line x1="1302" y1="2378.1" x2="1310" y2="2378.1" stroke="#1d1d1b" stroke-width="1.8" stroke-linecap="butt"/>
<text font-size="30.2" text-anchor="end" transform="translate(1286.6 2388.1) scale(0.955 1)">0.02</text>
<line x1="1302" y1="2268.2" x2="1310" y2="2268.2" stroke="#1d1d1b" stroke-width="1.8" stroke-linecap="butt"/>
<text font-size="30.2" text-anchor="end" transform="translate(1286.6 2278.2) scale(0.955 1)">0.04</text>
<line x1="1302" y1="2158.3" x2="1310" y2="2158.3" stroke="#1d1d1b" stroke-width="1.8" stroke-linecap="butt"/>
<text font-size="30.2" text-anchor="end" transform="translate(1286.6 2168.3) scale(0.955 1)">0.06</text>
<line x1="1302" y1="2048.4" x2="1310" y2="2048.4" stroke="#1d1d1b" stroke-width="1.8" stroke-linecap="butt"/>
<text font-size="30.2" text-anchor="end" transform="translate(1286.6 2058.4) scale(0.955 1)">0.08</text>
<line x1="1302" y1="1938.5" x2="1310" y2="1938.5" stroke="#1d1d1b" stroke-width="1.8" stroke-linecap="butt"/>
<text font-size="30.2" text-anchor="end" transform="translate(1286.6 1948.5) scale(0.955 1)">0.1</text>
<line x1="1411.8" y1="2488" x2="1411.8" y2="2480" stroke="#1d1d1b" stroke-width="1.8" stroke-linecap="butt"/>
<line x1="1498.1" y1="2488" x2="1498.1" y2="2480" stroke="#1d1d1b" stroke-width="1.8" stroke-linecap="butt"/>
<line x1="1584.4" y1="2488" x2="1584.4" y2="2480" stroke="#1d1d1b" stroke-width="1.8" stroke-linecap="butt"/>
<line x1="1670.7" y1="2488" x2="1670.7" y2="2480" stroke="#1d1d1b" stroke-width="1.8" stroke-linecap="butt"/>
<line x1="1757" y1="2488" x2="1757" y2="2480" stroke="#1d1d1b" stroke-width="1.8" stroke-linecap="butt"/>
<line x1="1843.3" y1="2488" x2="1843.3" y2="2480" stroke="#1d1d1b" stroke-width="1.8" stroke-linecap="butt"/>
<line x1="1929.6" y1="2488" x2="1929.6" y2="2480" stroke="#1d1d1b" stroke-width="1.8" stroke-linecap="butt"/>
<text font-size="30.2" text-anchor="middle" transform="translate(1325.5 2517.6) scale(0.955 1)">30</text>
<text font-size="30.2" text-anchor="middle" transform="translate(1411.8 2517.6) scale(0.955 1)">35</text>
<text font-size="30.2" text-anchor="middle" transform="translate(1498.1 2517.6) scale(0.955 1)">40</text>
<text font-size="30.2" text-anchor="middle" transform="translate(1584.4 2517.6) scale(0.955 1)">45</text>
<text font-size="30.2" text-anchor="middle" transform="translate(1670.7 2517.6) scale(0.955 1)">50</text>
<text font-size="30.2" text-anchor="middle" transform="translate(1757 2517.6) scale(0.955 1)">55</text>
<text font-size="30.2" text-anchor="middle" transform="translate(1843.3 2517.6) scale(0.955 1)">60</text>
<text font-size="30.2" text-anchor="middle" transform="translate(1929.6 2517.6) scale(0.955 1)">65</text>
<text font-size="29.2" text-anchor="middle" transform="translate(1659 2555.5) scale(0.985 1)">Percent GpC (5kb bin)</text>
<text font-size="29.2" text-anchor="middle" transform="translate(1207.5 2214) rotate(-90) scale(0.985 1)">CpG coverage frequency</text>
<g fill="#8d86e6">
<circle cx="1301.6" cy="2487.97" r="6.85"/>
<circle cx="1318.8" cy="2487.97" r="6.85"/>
<circle cx="1336" cy="2487.22" r="6.85"/>
<circle cx="1353.2" cy="2483.48" r="6.85"/>
<circle cx="1370.4" cy="2469" r="6.85"/>
<circle cx="1387.6" cy="2443.52" r="6.85"/>
<circle cx="1404.8" cy="2403.32" r="6.85"/>
<circle cx="1422" cy="2343.14" r="6.85"/>
<circle cx="1439.2" cy="2266.98" r="6.85"/>
<circle cx="1456.4" cy="2182.78" r="6.85"/>
<circle cx="1473.6" cy="2108.36" r="6.85"/>
<circle cx="1490.8" cy="2059.17" r="6.85"/>
<circle cx="1508" cy="2044.94" r="6.85"/>
<circle cx="1525.2" cy="2041.19" r="6.85"/>
<circle cx="1542.4" cy="2040.69" r="6.85"/>
<circle cx="1559.6" cy="2055.67" r="6.85"/>
<circle cx="1576.8" cy="2079.9" r="6.85"/>
<circle cx="1594" cy="2128.59" r="6.85"/>
<circle cx="1611.2" cy="2183.03" r="6.85"/>
<circle cx="1628.4" cy="2239.71" r="6.85"/>
<circle cx="1645.6" cy="2289.2" r="6.85"/>
<circle cx="1662.8" cy="2332.4" r="6.85"/>
<circle cx="1680" cy="2363.62" r="6.85"/>
<circle cx="1697.2" cy="2392.33" r="6.85"/>
<circle cx="1714.4" cy="2416.06" r="6.85"/>
<circle cx="1731.6" cy="2436.78" r="6.85"/>
<circle cx="1748.8" cy="2452.26" r="6.85"/>
<circle cx="1766" cy="2466" r="6.85"/>
<circle cx="1783.2" cy="2473.49" r="6.85"/>
<circle cx="1800.4" cy="2479.73" r="6.85"/>
<circle cx="1817.6" cy="2484.23" r="6.85"/>
<circle cx="1834.8" cy="2486.48" r="6.85"/>
<circle cx="1852" cy="2487.47" r="6.85"/>
<circle cx="1869.2" cy="2487.97" r="6.85"/>
<circle cx="1886.4" cy="2487.97" r="6.85"/>
</g>
<g fill="#55eef4">
<circle cx="1301.6" cy="2487.97" r="6.85"/>
<circle cx="1318.8" cy="2487.97" r="6.85"/>
<circle cx="1336" cy="2487.97" r="6.85"/>
<circle cx="1353.2" cy="2486.72" r="6.85"/>
<circle cx="1370.4" cy="2483.48" r="6.85"/>
<circle cx="1387.6" cy="2474.74" r="6.85"/>
<circle cx="1404.8" cy="2459.26" r="6.85"/>
<circle cx="1422" cy="2435.78" r="6.85"/>
<circle cx="1439.2" cy="2399.33" r="6.85"/>
<circle cx="1456.4" cy="2351.38" r="6.85"/>
<circle cx="1473.6" cy="2295.45" r="6.85"/>
<circle cx="1490.8" cy="2239.21" r="6.85"/>
<circle cx="1508" cy="2198.76" r="6.85"/>
<circle cx="1525.2" cy="2157.56" r="6.85"/>
<circle cx="1542.4" cy="2110.61" r="6.85"/>
<circle cx="1559.6" cy="2073.65" r="6.85"/>
<circle cx="1576.8" cy="2046.43" r="6.85"/>
<circle cx="1594" cy="2047.43" r="6.85"/>
<circle cx="1611.2" cy="2068.91" r="6.85"/>
<circle cx="1628.4" cy="2112.36" r="6.85"/>
<circle cx="1645.6" cy="2157.31" r="6.85"/>
<circle cx="1662.8" cy="2201.75" r="6.85"/>
<circle cx="1680" cy="2235.96" r="6.85"/>
<circle cx="1697.2" cy="2272.97" r="6.85"/>
<circle cx="1714.4" cy="2316.92" r="6.85"/>
<circle cx="1731.6" cy="2354.38" r="6.85"/>
<circle cx="1748.8" cy="2389.84" r="6.85"/>
<circle cx="1766" cy="2422.8" r="6.85"/>
<circle cx="1783.2" cy="2444.77" r="6.85"/>
<circle cx="1800.4" cy="2461" r="6.85"/>
<circle cx="1817.6" cy="2474.74" r="6.85"/>
<circle cx="1834.8" cy="2479.73" r="6.85"/>
<circle cx="1852" cy="2483.48" r="6.85"/>
<circle cx="1869.2" cy="2485.98" r="6.85"/>
<circle cx="1886.4" cy="2487.22" r="6.85"/>
</g>
<g fill="#7eee47">
<circle cx="1301.6" cy="2487.97" r="6.85"/>
<circle cx="1318.8" cy="2487.97" r="6.85"/>
<circle cx="1336" cy="2484.73" r="6.85"/>
<circle cx="1353.2" cy="2476.74" r="6.85"/>
<circle cx="1370.4" cy="2461.5" r="6.85"/>
<circle cx="1387.6" cy="2430.29" r="6.85"/>
<circle cx="1404.8" cy="2382.85" r="6.85"/>
<circle cx="1422" cy="2317.67" r="6.85"/>
<circle cx="1439.2" cy="2236.46" r="6.85"/>
<circle cx="1456.4" cy="2149.31" r="6.85"/>
<circle cx="1473.6" cy="2067.66" r="6.85"/>
<circle cx="1490.8" cy="2013.47" r="6.85"/>
<circle cx="1508" cy="2028.21" r="6.85"/>
<circle cx="1525.2" cy="2049.18" r="6.85"/>
<circle cx="1542.4" cy="2064.16" r="6.85"/>
<circle cx="1559.6" cy="2088.14" r="6.85"/>
<circle cx="1576.8" cy="2114.36" r="6.85"/>
<circle cx="1594" cy="2159.8" r="6.85"/>
<circle cx="1611.2" cy="2210.24" r="6.85"/>
<circle cx="1628.4" cy="2261.99" r="6.85"/>
<circle cx="1645.6" cy="2307.43" r="6.85"/>
<circle cx="1662.8" cy="2346.14" r="6.85"/>
<circle cx="1680" cy="2373.86" r="6.85"/>
<circle cx="1697.2" cy="2400.08" r="6.85"/>
<circle cx="1714.4" cy="2422.8" r="6.85"/>
<circle cx="1731.6" cy="2441.28" r="6.85"/>
<circle cx="1748.8" cy="2456.01" r="6.85"/>
<circle cx="1766" cy="2468" r="6.85"/>
<circle cx="1783.2" cy="2475.24" r="6.85"/>
<circle cx="1800.4" cy="2480.98" r="6.85"/>
<circle cx="1817.6" cy="2485.23" r="6.85"/>
<circle cx="1834.8" cy="2487.22" r="6.85"/>
<circle cx="1852" cy="2487.97" r="6.85"/>
<circle cx="1869.2" cy="2487.97" r="6.85"/>
<circle cx="1886.4" cy="2487.97" r="6.85"/>
</g>
<g fill="#f8ba37">
<circle cx="1301.6" cy="2487.97" r="6.85"/>
<circle cx="1318.8" cy="2487.97" r="6.85"/>
<circle cx="1336" cy="2487.97" r="6.85"/>
<circle cx="1353.2" cy="2487.22" r="6.85"/>
<circle cx="1370.4" cy="2484.73" r="6.85"/>
<circle cx="1387.6" cy="2480.23" r="6.85"/>
<circle cx="1404.8" cy="2469.25" r="6.85"/>
<circle cx="1422" cy="2453.51" r="6.85"/>
<circle cx="1439.2" cy="2426.54" r="6.85"/>
<circle cx="1456.4" cy="2387.84" r="6.85"/>
<circle cx="1473.6" cy="2314.92" r="6.85"/>
<circle cx="1490.8" cy="2284.21" r="6.85"/>
<circle cx="1508" cy="2245.2" r="6.85"/>
<circle cx="1525.2" cy="2201.75" r="6.85"/>
<circle cx="1542.4" cy="2144.07" r="6.85"/>
<circle cx="1559.6" cy="2110.61" r="6.85"/>
<circle cx="1576.8" cy="2083.89" r="6.85"/>
<circle cx="1594" cy="2061.67" r="6.85"/>
<circle cx="1611.2" cy="2078.65" r="6.85"/>
<circle cx="1628.4" cy="2098.87" r="6.85"/>
<circle cx="1645.6" cy="2139.08" r="6.85"/>
<circle cx="1662.8" cy="2178.28" r="6.85"/>
<circle cx="1680" cy="2195.51" r="6.85"/>
<circle cx="1697.2" cy="2245.95" r="6.85"/>
<circle cx="1714.4" cy="2276.97" r="6.85"/>
<circle cx="1731.6" cy="2311.18" r="6.85"/>
<circle cx="1748.8" cy="2353.63" r="6.85"/>
<circle cx="1766" cy="2391.09" r="6.85"/>
<circle cx="1783.2" cy="2411.81" r="6.85"/>
<circle cx="1800.4" cy="2436.78" r="6.85"/>
<circle cx="1817.6" cy="2456.51" r="6.85"/>
<circle cx="1834.8" cy="2466" r="6.85"/>
<circle cx="1852" cy="2475.99" r="6.85"/>
<circle cx="1869.2" cy="2479.23" r="6.85"/>
<circle cx="1886.4" cy="2481.73" r="6.85"/>
</g>
<g fill="#ef2f72">
<circle cx="1301.6" cy="2487.97" r="6.85"/>
<circle cx="1318.8" cy="2487.97" r="6.85"/>
<circle cx="1336" cy="2487.72" r="6.85"/>
<circle cx="1353.2" cy="2485.23" r="6.85"/>
<circle cx="1370.4" cy="2480.98" r="6.85"/>
<circle cx="1387.6" cy="2469.25" r="6.85"/>
<circle cx="1404.8" cy="2448.52" r="6.85"/>
<circle cx="1422" cy="2415.31" r="6.85"/>
<circle cx="1439.2" cy="2366.36" r="6.85"/>
<circle cx="1456.4" cy="2305.93" r="6.85"/>
<circle cx="1473.6" cy="2239.21" r="6.85"/>
<circle cx="1490.8" cy="2178.53" r="6.85"/>
<circle cx="1508" cy="2132.58" r="6.85"/>
<circle cx="1525.2" cy="2094.38" r="6.85"/>
<circle cx="1542.4" cy="2054.18" r="6.85"/>
<circle cx="1559.6" cy="2032.7" r="6.85"/>
<circle cx="1576.8" cy="2029.45" r="6.85"/>
<circle cx="1594" cy="2051.18" r="6.85"/>
<circle cx="1611.2" cy="2091.88" r="6.85"/>
<circle cx="1628.4" cy="2148.57" r="6.85"/>
<circle cx="1645.6" cy="2201.25" r="6.85"/>
<circle cx="1662.8" cy="2249.7" r="6.85"/>
<circle cx="1680" cy="2290.7" r="6.85"/>
<circle cx="1697.2" cy="2330.66" r="6.85"/>
<circle cx="1714.4" cy="2369.36" r="6.85"/>
<circle cx="1731.6" cy="2399.33" r="6.85"/>
<circle cx="1748.8" cy="2427.29" r="6.85"/>
<circle cx="1766" cy="2451.02" r="6.85"/>
<circle cx="1783.2" cy="2464.75" r="6.85"/>
<circle cx="1800.4" cy="2473.99" r="6.85"/>
<circle cx="1817.6" cy="2481.73" r="6.85"/>
<circle cx="1834.8" cy="2484.73" r="6.85"/>
<circle cx="1852" cy="2485.98" r="6.85"/>
<circle cx="1869.2" cy="2486.72" r="6.85"/>
<circle cx="1886.4" cy="2487.22" r="6.85"/>
</g>
<circle cx="1711.8" cy="1978.8" r="6.85" fill="#8d86e6"/>
<text font-size="29.2" transform="translate(1731.5 1987.7) scale(0.985 1)">scMspJI-seq</text>
<circle cx="1711.8" cy="2012.55" r="6.85" fill="#55eef4"/>
<text font-size="29.2" transform="translate(1731.5 2021.45) scale(0.985 1)">scBS-seq</text>
<circle cx="1711.8" cy="2046.3" r="6.85" fill="#7eee47"/>
<text font-size="29.2" transform="translate(1731.5 2055.2) scale(0.985 1)">CpG distribution in genome</text>
<circle cx="1711.8" cy="2080.05" r="6.85" fill="#f8ba37"/>
<text font-size="29.2" transform="translate(1731.5 2088.95) scale(0.985 1)">scDyad&amp;T-seq (CpG distribution)</text>
<circle cx="1711.8" cy="2113.8" r="6.85" fill="#ef2f72"/>
<text font-size="29.2" transform="translate(1731.5 2122.7) scale(0.985 1)">scDyad&amp;T-seq (dyad distribution)</text>
</g>
</svg>
</body>
</html>
